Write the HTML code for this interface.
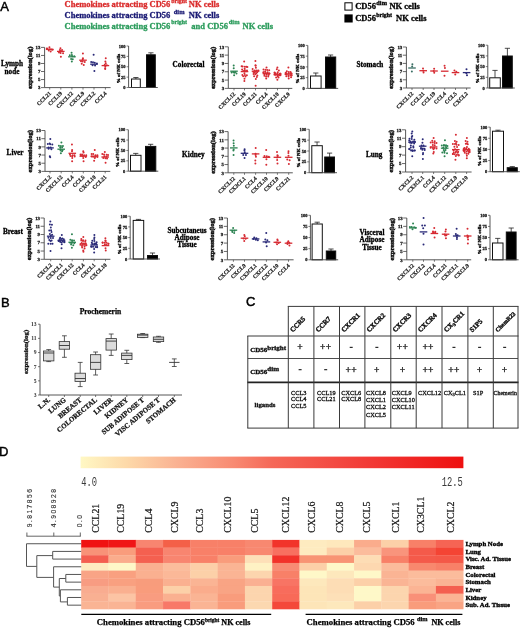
<!DOCTYPE html>
<html><head><meta charset="utf-8"><style>
html,body{margin:0;padding:0;background:#fff;}
body{width:520px;height:628px;overflow:hidden;}
svg{display:block;will-change:transform;}
</style></head><body>
<svg width="520" height="628" viewBox="0 0 520 628">
<rect width="520" height="628" fill="#fff"/>
<text x="0.30" y="10.60" font-family="'Liberation Sans', sans-serif" font-size="13" font-weight="normal" fill="#000" text-anchor="start" stroke="#000" stroke-width="0.45">A</text>
<text x="64.6" y="7.0" font-family="'Liberation Serif', serif" font-size="8.5" font-weight="bold" fill="#da2c2c" stroke="#da2c2c" stroke-width="0.3" xml:space="preserve"><tspan dy="0.00">Chemokines attracting CD56</tspan><tspan x="171.3" font-size="5.9" dy="-4.40">bright</tspan><tspan x="188.8" dy="4.40">NK cells</tspan></text>
<text x="64.6" y="18.0" font-family="'Liberation Serif', serif" font-size="8.5" font-weight="bold" fill="#1a1a74" stroke="#1a1a74" stroke-width="0.3" xml:space="preserve"><tspan dy="0.00">Chemokines attracting CD56</tspan><tspan x="173.8" font-size="6.4" dy="-4.40">dim</tspan><tspan x="188.8" dy="4.40">NK cells</tspan></text>
<text x="64.6" y="28.6" font-family="'Liberation Serif', serif" font-size="8.5" font-weight="bold" fill="#2c9c5c" stroke="#2c9c5c" stroke-width="0.3" xml:space="preserve"><tspan dy="0.00">Chemokines attracting CD56</tspan><tspan x="171.3" font-size="5.9" dy="-4.40">bright</tspan><tspan x="191.3" dy="4.40">and CD56</tspan><tspan x="228.8" font-size="6.4" dy="-4.40">dim</tspan><tspan x="242.5" dy="4.40">NK cells</tspan></text>
<rect x="344.90" y="2.80" width="7.20" height="7.30" fill="#fff" stroke="#000" stroke-width="1"/>
<rect x="344.40" y="14.40" width="8.30" height="8.10" fill="#000"/>
<text x="355.2" y="9.0" font-family="'Liberation Serif', serif" font-size="8.5" font-weight="bold" fill="#000" stroke="#000" stroke-width="0.3" xml:space="preserve"><tspan dy="0.00">CD56</tspan><tspan x="376.3" font-size="6.4" dy="-4.40">dim</tspan><tspan x="389.4" dy="4.40">NK cells</tspan></text>
<text x="355.2" y="21.0" font-family="'Liberation Serif', serif" font-size="8.5" font-weight="bold" fill="#000" stroke="#000" stroke-width="0.3" xml:space="preserve"><tspan dy="0.00">CD56</tspan><tspan x="376.3" font-size="5.9" dy="-4.40">bright</tspan><tspan x="396.0" dy="4.40">NK cells</tspan></text>
<line x1="44.60" y1="47.40" x2="44.60" y2="87.60" stroke="#444" stroke-width="0.9"/>
<line x1="44.60" y1="87.60" x2="110.60" y2="87.60" stroke="#444" stroke-width="0.9"/>
<line x1="41.00" y1="47.40" x2="44.60" y2="47.40" stroke="#444" stroke-width="0.8"/>
<text x="40.40" y="49.10" font-family="'Liberation Serif', serif" font-size="4.8" font-weight="bold" fill="#222" text-anchor="end" stroke="#222" stroke-width="0.3">13</text>
<line x1="41.00" y1="55.44" x2="44.60" y2="55.44" stroke="#444" stroke-width="0.8"/>
<text x="40.40" y="57.14" font-family="'Liberation Serif', serif" font-size="4.8" font-weight="bold" fill="#222" text-anchor="end" stroke="#222" stroke-width="0.3">11</text>
<line x1="41.00" y1="63.48" x2="44.60" y2="63.48" stroke="#444" stroke-width="0.8"/>
<text x="40.40" y="65.18" font-family="'Liberation Serif', serif" font-size="4.8" font-weight="bold" fill="#222" text-anchor="end" stroke="#222" stroke-width="0.3">9</text>
<line x1="41.00" y1="71.52" x2="44.60" y2="71.52" stroke="#444" stroke-width="0.8"/>
<text x="40.40" y="73.22" font-family="'Liberation Serif', serif" font-size="4.8" font-weight="bold" fill="#222" text-anchor="end" stroke="#222" stroke-width="0.3">7</text>
<line x1="41.00" y1="79.56" x2="44.60" y2="79.56" stroke="#444" stroke-width="0.8"/>
<text x="40.40" y="81.26" font-family="'Liberation Serif', serif" font-size="4.8" font-weight="bold" fill="#222" text-anchor="end" stroke="#222" stroke-width="0.3">5</text>
<line x1="41.00" y1="87.60" x2="44.60" y2="87.60" stroke="#444" stroke-width="0.8"/>
<text x="40.40" y="89.30" font-family="'Liberation Serif', serif" font-size="4.8" font-weight="bold" fill="#222" text-anchor="end" stroke="#222" stroke-width="0.3">3</text>
<text x="31.60" y="67.80" font-family="'Liberation Serif', serif" font-size="6.6" font-weight="bold" fill="#111" text-anchor="middle" transform="rotate(-90 31.6 67.8)" stroke="#111" stroke-width="0.45">expression(log)</text>
<line x1="49.70" y1="87.60" x2="49.70" y2="89.60" stroke="#444" stroke-width="0.7"/>
<circle cx="49.42" cy="47.20" r="1.0" fill="#d62a32"/>
<circle cx="46.80" cy="48.61" r="1.0" fill="#d62a32"/>
<circle cx="47.45" cy="48.67" r="1.0" fill="#d62a32"/>
<circle cx="49.95" cy="49.29" r="1.0" fill="#d62a32"/>
<circle cx="51.54" cy="49.57" r="1.0" fill="#d62a32"/>
<circle cx="52.60" cy="49.65" r="1.0" fill="#d62a32"/>
<circle cx="48.76" cy="50.54" r="1.0" fill="#d62a32"/>
<circle cx="50.65" cy="51.40" r="1.0" fill="#d62a32"/>
<line x1="45.90" y1="49.40" x2="53.50" y2="49.40" stroke="#d62a32" stroke-width="1.3"/>
<text x="51.40" y="93.70" font-family="'Liberation Serif', serif" font-size="5.6" font-weight="bold" fill="#222" text-anchor="end" transform="rotate(-45 51.400000000000006 93.69999999999999)" stroke="#222" stroke-width="0.2">CCL21</text>
<line x1="60.80" y1="87.60" x2="60.80" y2="89.60" stroke="#444" stroke-width="0.7"/>
<circle cx="60.43" cy="48.30" r="1.0" fill="#d62a32"/>
<circle cx="59.88" cy="50.06" r="1.0" fill="#d62a32"/>
<circle cx="62.06" cy="50.07" r="1.0" fill="#d62a32"/>
<circle cx="60.86" cy="51.10" r="1.0" fill="#d62a32"/>
<circle cx="59.00" cy="52.61" r="1.0" fill="#d62a32"/>
<circle cx="60.65" cy="53.02" r="1.0" fill="#d62a32"/>
<circle cx="63.06" cy="53.16" r="1.0" fill="#d62a32"/>
<circle cx="60.88" cy="56.80" r="1.0" fill="#d62a32"/>
<line x1="57.00" y1="51.40" x2="64.60" y2="51.40" stroke="#d62a32" stroke-width="1.3"/>
<text x="62.50" y="93.70" font-family="'Liberation Serif', serif" font-size="5.6" font-weight="bold" fill="#222" text-anchor="end" transform="rotate(-45 62.5 93.69999999999999)" stroke="#222" stroke-width="0.2">CCL19</text>
<line x1="71.90" y1="87.60" x2="71.90" y2="89.60" stroke="#444" stroke-width="0.7"/>
<circle cx="71.56" cy="52.80" r="1.0" fill="#2c8352"/>
<circle cx="71.86" cy="54.90" r="1.0" fill="#2c8352"/>
<circle cx="69.84" cy="55.29" r="1.0" fill="#2c8352"/>
<circle cx="72.21" cy="56.22" r="1.0" fill="#2c8352"/>
<circle cx="74.26" cy="56.37" r="1.0" fill="#2c8352"/>
<circle cx="71.14" cy="59.02" r="1.0" fill="#2c8352"/>
<circle cx="72.77" cy="59.33" r="1.0" fill="#2c8352"/>
<circle cx="71.83" cy="61.50" r="1.0" fill="#2c8352"/>
<line x1="68.10" y1="56.80" x2="75.70" y2="56.80" stroke="#2c8352" stroke-width="1.3"/>
<text x="73.60" y="93.70" font-family="'Liberation Serif', serif" font-size="5.6" font-weight="bold" fill="#222" text-anchor="end" transform="rotate(-45 73.60000000000001 93.69999999999999)" stroke="#222" stroke-width="0.2">CXCL12</text>
<line x1="83.00" y1="87.60" x2="83.00" y2="89.60" stroke="#444" stroke-width="0.7"/>
<circle cx="82.91" cy="53.50" r="1.0" fill="#d62a32"/>
<circle cx="82.92" cy="58.35" r="1.0" fill="#d62a32"/>
<circle cx="82.68" cy="59.27" r="1.0" fill="#d62a32"/>
<circle cx="81.01" cy="61.24" r="1.0" fill="#d62a32"/>
<circle cx="82.65" cy="61.62" r="1.0" fill="#d62a32"/>
<circle cx="84.75" cy="61.98" r="1.0" fill="#d62a32"/>
<circle cx="81.72" cy="63.81" r="1.0" fill="#d62a32"/>
<circle cx="83.78" cy="64.90" r="1.0" fill="#d62a32"/>
<line x1="79.20" y1="60.20" x2="86.80" y2="60.20" stroke="#d62a32" stroke-width="1.3"/>
<text x="84.70" y="93.70" font-family="'Liberation Serif', serif" font-size="5.6" font-weight="bold" fill="#222" text-anchor="end" transform="rotate(-45 84.7 93.69999999999999)" stroke="#222" stroke-width="0.2">CXCL9</text>
<line x1="94.00" y1="87.60" x2="94.00" y2="89.60" stroke="#444" stroke-width="0.7"/>
<circle cx="93.62" cy="54.80" r="1.0" fill="#2a2a78"/>
<circle cx="91.21" cy="62.11" r="1.0" fill="#2a2a78"/>
<circle cx="92.97" cy="62.37" r="1.0" fill="#2a2a78"/>
<circle cx="94.77" cy="62.73" r="1.0" fill="#2a2a78"/>
<circle cx="96.90" cy="63.62" r="1.0" fill="#2a2a78"/>
<circle cx="92.57" cy="65.25" r="1.0" fill="#2a2a78"/>
<circle cx="95.07" cy="65.43" r="1.0" fill="#2a2a78"/>
<circle cx="94.38" cy="71.00" r="1.0" fill="#2a2a78"/>
<line x1="90.20" y1="64.20" x2="97.80" y2="64.20" stroke="#2a2a78" stroke-width="1.3"/>
<text x="95.70" y="93.70" font-family="'Liberation Serif', serif" font-size="5.6" font-weight="bold" fill="#222" text-anchor="end" transform="rotate(-45 95.7 93.69999999999999)" stroke="#222" stroke-width="0.2">CXCL2</text>
<line x1="105.40" y1="87.60" x2="105.40" y2="89.60" stroke="#444" stroke-width="0.7"/>
<circle cx="105.77" cy="58.20" r="1.0" fill="#d62a32"/>
<circle cx="105.36" cy="61.46" r="1.0" fill="#d62a32"/>
<circle cx="105.75" cy="63.37" r="1.0" fill="#d62a32"/>
<circle cx="104.74" cy="64.81" r="1.0" fill="#d62a32"/>
<circle cx="106.81" cy="65.14" r="1.0" fill="#d62a32"/>
<circle cx="105.29" cy="66.41" r="1.0" fill="#d62a32"/>
<circle cx="105.18" cy="68.13" r="1.0" fill="#d62a32"/>
<circle cx="105.18" cy="69.00" r="1.0" fill="#d62a32"/>
<line x1="101.60" y1="65.60" x2="109.20" y2="65.60" stroke="#d62a32" stroke-width="1.3"/>
<text x="107.10" y="93.70" font-family="'Liberation Serif', serif" font-size="5.6" font-weight="bold" fill="#222" text-anchor="end" transform="rotate(-45 107.10000000000001 93.69999999999999)" stroke="#222" stroke-width="0.2">CCL4</text>
<text x="12.00" y="65.70" font-family="'Liberation Serif', serif" font-size="7.2" font-weight="bold" fill="#000" text-anchor="middle" stroke="#000" stroke-width="0.3">Lymph</text>
<text x="12.00" y="73.50" font-family="'Liberation Serif', serif" font-size="7.2" font-weight="bold" fill="#000" text-anchor="middle" stroke="#000" stroke-width="0.3">node</text>
<line x1="128.60" y1="46.00" x2="128.60" y2="87.50" stroke="#444" stroke-width="0.9"/>
<line x1="126.60" y1="46.00" x2="128.60" y2="46.00" stroke="#444" stroke-width="0.7"/>
<text x="125.60" y="47.60" font-family="'Liberation Serif', serif" font-size="4.5" font-weight="bold" fill="#222" text-anchor="end" stroke="#222" stroke-width="0.3">100</text>
<line x1="126.60" y1="56.38" x2="128.60" y2="56.38" stroke="#444" stroke-width="0.7"/>
<text x="125.60" y="57.98" font-family="'Liberation Serif', serif" font-size="4.5" font-weight="bold" fill="#222" text-anchor="end" stroke="#222" stroke-width="0.3">75</text>
<line x1="126.60" y1="66.75" x2="128.60" y2="66.75" stroke="#444" stroke-width="0.7"/>
<text x="125.60" y="68.35" font-family="'Liberation Serif', serif" font-size="4.5" font-weight="bold" fill="#222" text-anchor="end" stroke="#222" stroke-width="0.3">50</text>
<line x1="126.60" y1="77.12" x2="128.60" y2="77.12" stroke="#444" stroke-width="0.7"/>
<text x="125.60" y="78.72" font-family="'Liberation Serif', serif" font-size="4.5" font-weight="bold" fill="#222" text-anchor="end" stroke="#222" stroke-width="0.3">25</text>
<line x1="126.60" y1="87.50" x2="128.60" y2="87.50" stroke="#444" stroke-width="0.7"/>
<text x="125.60" y="89.10" font-family="'Liberation Serif', serif" font-size="4.5" font-weight="bold" fill="#222" text-anchor="end" stroke="#222" stroke-width="0.3">0</text>
<text x="119.60" y="68.55" font-family="'Liberation Serif', serif" font-size="5.0" font-weight="bold" fill="#111" text-anchor="middle" transform="rotate(-90 119.6 68.55)" stroke="#111" stroke-width="0.4">% of NK cells</text>
<line x1="135.90" y1="77.50" x2="135.90" y2="79.00" stroke="#222" stroke-width="0.8"/>
<line x1="133.30" y1="77.50" x2="138.50" y2="77.50" stroke="#222" stroke-width="0.8"/>
<rect x="131.50" y="79.00" width="8.80" height="8.50" fill="#fff" stroke="#111" stroke-width="1"/>
<line x1="150.90" y1="52.80" x2="150.90" y2="54.80" stroke="#222" stroke-width="0.8"/>
<line x1="148.30" y1="52.80" x2="153.50" y2="52.80" stroke="#222" stroke-width="0.8"/>
<rect x="146.50" y="54.80" width="8.80" height="32.70" fill="#000" stroke="#111" stroke-width="1"/>
<line x1="128.60" y1="87.50" x2="157.80" y2="87.50" stroke="#444" stroke-width="0.9"/>
<line x1="228.30" y1="46.80" x2="228.30" y2="88.40" stroke="#444" stroke-width="0.9"/>
<line x1="228.30" y1="88.40" x2="292.30" y2="88.40" stroke="#444" stroke-width="0.9"/>
<line x1="224.70" y1="46.80" x2="228.30" y2="46.80" stroke="#444" stroke-width="0.8"/>
<text x="224.10" y="48.50" font-family="'Liberation Serif', serif" font-size="4.8" font-weight="bold" fill="#222" text-anchor="end" stroke="#222" stroke-width="0.3">13</text>
<line x1="224.70" y1="55.12" x2="228.30" y2="55.12" stroke="#444" stroke-width="0.8"/>
<text x="224.10" y="56.82" font-family="'Liberation Serif', serif" font-size="4.8" font-weight="bold" fill="#222" text-anchor="end" stroke="#222" stroke-width="0.3">11</text>
<line x1="224.70" y1="63.44" x2="228.30" y2="63.44" stroke="#444" stroke-width="0.8"/>
<text x="224.10" y="65.14" font-family="'Liberation Serif', serif" font-size="4.8" font-weight="bold" fill="#222" text-anchor="end" stroke="#222" stroke-width="0.3">9</text>
<line x1="224.70" y1="71.76" x2="228.30" y2="71.76" stroke="#444" stroke-width="0.8"/>
<text x="224.10" y="73.46" font-family="'Liberation Serif', serif" font-size="4.8" font-weight="bold" fill="#222" text-anchor="end" stroke="#222" stroke-width="0.3">7</text>
<line x1="224.70" y1="80.08" x2="228.30" y2="80.08" stroke="#444" stroke-width="0.8"/>
<text x="224.10" y="81.78" font-family="'Liberation Serif', serif" font-size="4.8" font-weight="bold" fill="#222" text-anchor="end" stroke="#222" stroke-width="0.3">5</text>
<line x1="224.70" y1="88.40" x2="228.30" y2="88.40" stroke="#444" stroke-width="0.8"/>
<text x="224.10" y="90.10" font-family="'Liberation Serif', serif" font-size="4.8" font-weight="bold" fill="#222" text-anchor="end" stroke="#222" stroke-width="0.3">3</text>
<text x="215.30" y="67.90" font-family="'Liberation Serif', serif" font-size="6.6" font-weight="bold" fill="#111" text-anchor="middle" transform="rotate(-90 215.3 67.89999999999999)" stroke="#111" stroke-width="0.45">expression(log)</text>
<line x1="234.00" y1="88.40" x2="234.00" y2="90.40" stroke="#444" stroke-width="0.7"/>
<circle cx="233.70" cy="65.60" r="1.0" fill="#2c8352"/>
<circle cx="233.72" cy="68.23" r="1.0" fill="#2c8352"/>
<circle cx="233.27" cy="71.88" r="1.0" fill="#2c8352"/>
<circle cx="235.30" cy="71.98" r="1.0" fill="#2c8352"/>
<circle cx="231.62" cy="72.62" r="1.0" fill="#2c8352"/>
<circle cx="234.26" cy="72.70" r="1.0" fill="#2c8352"/>
<circle cx="236.48" cy="73.53" r="1.0" fill="#2c8352"/>
<circle cx="234.13" cy="75.30" r="1.0" fill="#2c8352"/>
<line x1="230.20" y1="71.20" x2="237.80" y2="71.20" stroke="#2c8352" stroke-width="1.3"/>
<text x="235.70" y="94.50" font-family="'Liberation Serif', serif" font-size="5.6" font-weight="bold" fill="#222" text-anchor="end" transform="rotate(-45 235.7 94.5)" stroke="#222" stroke-width="0.2">CXCL12</text>
<line x1="244.50" y1="88.40" x2="244.50" y2="90.40" stroke="#444" stroke-width="0.7"/>
<circle cx="244.16" cy="61.50" r="1.0" fill="#d62a32"/>
<circle cx="241.60" cy="66.23" r="1.0" fill="#d62a32"/>
<circle cx="242.63" cy="66.57" r="1.0" fill="#d62a32"/>
<circle cx="244.82" cy="66.65" r="1.0" fill="#d62a32"/>
<circle cx="246.32" cy="66.85" r="1.0" fill="#d62a32"/>
<circle cx="247.40" cy="67.06" r="1.0" fill="#d62a32"/>
<circle cx="244.63" cy="68.70" r="1.0" fill="#d62a32"/>
<circle cx="242.11" cy="69.55" r="1.0" fill="#d62a32"/>
<circle cx="244.81" cy="70.28" r="1.0" fill="#d62a32"/>
<circle cx="246.97" cy="70.46" r="1.0" fill="#d62a32"/>
<circle cx="243.23" cy="71.12" r="1.0" fill="#d62a32"/>
<circle cx="245.91" cy="71.26" r="1.0" fill="#d62a32"/>
<circle cx="244.42" cy="73.36" r="1.0" fill="#d62a32"/>
<circle cx="242.39" cy="74.95" r="1.0" fill="#d62a32"/>
<circle cx="244.89" cy="75.05" r="1.0" fill="#d62a32"/>
<circle cx="246.87" cy="75.24" r="1.0" fill="#d62a32"/>
<circle cx="243.18" cy="76.21" r="1.0" fill="#d62a32"/>
<circle cx="245.50" cy="76.39" r="1.0" fill="#d62a32"/>
<circle cx="244.51" cy="78.75" r="1.0" fill="#d62a32"/>
<circle cx="244.37" cy="81.00" r="1.0" fill="#d62a32"/>
<line x1="240.70" y1="71.60" x2="248.30" y2="71.60" stroke="#d62a32" stroke-width="1.3"/>
<text x="246.20" y="94.50" font-family="'Liberation Serif', serif" font-size="5.6" font-weight="bold" fill="#222" text-anchor="end" transform="rotate(-45 246.2 94.5)" stroke="#222" stroke-width="0.2">CCL19</text>
<line x1="255.50" y1="88.40" x2="255.50" y2="90.40" stroke="#444" stroke-width="0.7"/>
<circle cx="255.41" cy="60.90" r="1.0" fill="#d62a32"/>
<circle cx="255.51" cy="65.22" r="1.0" fill="#d62a32"/>
<circle cx="255.65" cy="65.72" r="1.0" fill="#d62a32"/>
<circle cx="255.89" cy="67.80" r="1.0" fill="#d62a32"/>
<circle cx="252.60" cy="68.89" r="1.0" fill="#d62a32"/>
<circle cx="254.72" cy="70.38" r="1.0" fill="#d62a32"/>
<circle cx="256.72" cy="70.38" r="1.0" fill="#d62a32"/>
<circle cx="258.40" cy="70.51" r="1.0" fill="#d62a32"/>
<circle cx="253.32" cy="71.77" r="1.0" fill="#d62a32"/>
<circle cx="255.38" cy="71.82" r="1.0" fill="#d62a32"/>
<circle cx="257.24" cy="72.17" r="1.0" fill="#d62a32"/>
<circle cx="254.15" cy="72.69" r="1.0" fill="#d62a32"/>
<circle cx="256.21" cy="73.18" r="1.0" fill="#d62a32"/>
<circle cx="253.59" cy="73.96" r="1.0" fill="#d62a32"/>
<circle cx="255.30" cy="74.31" r="1.0" fill="#d62a32"/>
<circle cx="257.33" cy="75.60" r="1.0" fill="#d62a32"/>
<circle cx="254.12" cy="76.30" r="1.0" fill="#d62a32"/>
<circle cx="256.82" cy="76.96" r="1.0" fill="#d62a32"/>
<circle cx="255.80" cy="79.01" r="1.0" fill="#d62a32"/>
<circle cx="255.64" cy="85.80" r="1.0" fill="#d62a32"/>
<line x1="251.70" y1="71.20" x2="259.30" y2="71.20" stroke="#d62a32" stroke-width="1.3"/>
<text x="257.20" y="94.50" font-family="'Liberation Serif', serif" font-size="5.6" font-weight="bold" fill="#222" text-anchor="end" transform="rotate(-45 257.2 94.5)" stroke="#222" stroke-width="0.2">CCL21</text>
<line x1="266.40" y1="88.40" x2="266.40" y2="90.40" stroke="#444" stroke-width="0.7"/>
<circle cx="266.53" cy="67.60" r="1.0" fill="#d62a32"/>
<circle cx="263.50" cy="69.40" r="1.0" fill="#d62a32"/>
<circle cx="265.54" cy="69.86" r="1.0" fill="#d62a32"/>
<circle cx="267.25" cy="69.88" r="1.0" fill="#d62a32"/>
<circle cx="269.21" cy="70.28" r="1.0" fill="#d62a32"/>
<circle cx="265.16" cy="71.38" r="1.0" fill="#d62a32"/>
<circle cx="267.63" cy="72.22" r="1.0" fill="#d62a32"/>
<circle cx="263.50" cy="72.26" r="1.0" fill="#d62a32"/>
<circle cx="263.50" cy="72.51" r="1.0" fill="#d62a32"/>
<circle cx="265.73" cy="72.92" r="1.0" fill="#d62a32"/>
<circle cx="267.45" cy="73.31" r="1.0" fill="#d62a32"/>
<circle cx="269.30" cy="73.48" r="1.0" fill="#d62a32"/>
<circle cx="269.30" cy="73.52" r="1.0" fill="#d62a32"/>
<circle cx="264.45" cy="74.28" r="1.0" fill="#d62a32"/>
<circle cx="266.61" cy="74.69" r="1.0" fill="#d62a32"/>
<circle cx="268.59" cy="75.07" r="1.0" fill="#d62a32"/>
<circle cx="264.41" cy="75.82" r="1.0" fill="#d62a32"/>
<circle cx="266.06" cy="76.42" r="1.0" fill="#d62a32"/>
<circle cx="268.22" cy="76.61" r="1.0" fill="#d62a32"/>
<circle cx="266.20" cy="78.40" r="1.0" fill="#d62a32"/>
<line x1="262.60" y1="73.60" x2="270.20" y2="73.60" stroke="#d62a32" stroke-width="1.3"/>
<text x="268.10" y="94.50" font-family="'Liberation Serif', serif" font-size="5.6" font-weight="bold" fill="#222" text-anchor="end" transform="rotate(-45 268.09999999999997 94.5)" stroke="#222" stroke-width="0.2">CCL4</text>
<line x1="277.50" y1="88.40" x2="277.50" y2="90.40" stroke="#444" stroke-width="0.7"/>
<circle cx="277.40" cy="67.60" r="1.0" fill="#d62a32"/>
<circle cx="276.81" cy="69.34" r="1.0" fill="#d62a32"/>
<circle cx="278.86" cy="70.48" r="1.0" fill="#d62a32"/>
<circle cx="277.75" cy="72.22" r="1.0" fill="#d62a32"/>
<circle cx="274.60" cy="72.39" r="1.0" fill="#d62a32"/>
<circle cx="274.60" cy="72.91" r="1.0" fill="#d62a32"/>
<circle cx="275.75" cy="73.43" r="1.0" fill="#d62a32"/>
<circle cx="277.54" cy="73.68" r="1.0" fill="#d62a32"/>
<circle cx="279.78" cy="73.71" r="1.0" fill="#d62a32"/>
<circle cx="280.40" cy="73.73" r="1.0" fill="#d62a32"/>
<circle cx="280.40" cy="73.86" r="1.0" fill="#d62a32"/>
<circle cx="274.60" cy="74.55" r="1.0" fill="#d62a32"/>
<circle cx="275.60" cy="74.77" r="1.0" fill="#d62a32"/>
<circle cx="277.62" cy="75.17" r="1.0" fill="#d62a32"/>
<circle cx="279.43" cy="75.33" r="1.0" fill="#d62a32"/>
<circle cx="280.40" cy="75.35" r="1.0" fill="#d62a32"/>
<circle cx="277.84" cy="76.18" r="1.0" fill="#d62a32"/>
<circle cx="276.15" cy="77.45" r="1.0" fill="#d62a32"/>
<circle cx="278.53" cy="77.48" r="1.0" fill="#d62a32"/>
<circle cx="277.37" cy="79.70" r="1.0" fill="#d62a32"/>
<line x1="273.70" y1="74.70" x2="281.30" y2="74.70" stroke="#d62a32" stroke-width="1.3"/>
<text x="279.20" y="94.50" font-family="'Liberation Serif', serif" font-size="5.6" font-weight="bold" fill="#222" text-anchor="end" transform="rotate(-45 279.2 94.5)" stroke="#222" stroke-width="0.2">CXCL10</text>
<line x1="288.60" y1="88.40" x2="288.60" y2="90.40" stroke="#444" stroke-width="0.7"/>
<circle cx="288.39" cy="67.60" r="1.0" fill="#d62a32"/>
<circle cx="286.84" cy="71.21" r="1.0" fill="#d62a32"/>
<circle cx="288.72" cy="72.01" r="1.0" fill="#d62a32"/>
<circle cx="290.54" cy="72.02" r="1.0" fill="#d62a32"/>
<circle cx="285.70" cy="72.86" r="1.0" fill="#d62a32"/>
<circle cx="286.30" cy="73.15" r="1.0" fill="#d62a32"/>
<circle cx="288.71" cy="73.32" r="1.0" fill="#d62a32"/>
<circle cx="290.86" cy="73.37" r="1.0" fill="#d62a32"/>
<circle cx="291.50" cy="73.40" r="1.0" fill="#d62a32"/>
<circle cx="285.70" cy="73.96" r="1.0" fill="#d62a32"/>
<circle cx="285.70" cy="74.25" r="1.0" fill="#d62a32"/>
<circle cx="286.57" cy="74.44" r="1.0" fill="#d62a32"/>
<circle cx="288.51" cy="75.24" r="1.0" fill="#d62a32"/>
<circle cx="290.48" cy="75.28" r="1.0" fill="#d62a32"/>
<circle cx="291.50" cy="75.30" r="1.0" fill="#d62a32"/>
<circle cx="291.50" cy="75.48" r="1.0" fill="#d62a32"/>
<circle cx="286.34" cy="76.32" r="1.0" fill="#d62a32"/>
<circle cx="288.57" cy="76.39" r="1.0" fill="#d62a32"/>
<circle cx="291.07" cy="77.28" r="1.0" fill="#d62a32"/>
<circle cx="288.72" cy="78.40" r="1.0" fill="#d62a32"/>
<line x1="284.80" y1="74.00" x2="292.40" y2="74.00" stroke="#d62a32" stroke-width="1.3"/>
<text x="290.30" y="94.50" font-family="'Liberation Serif', serif" font-size="5.6" font-weight="bold" fill="#222" text-anchor="end" transform="rotate(-45 290.3 94.5)" stroke="#222" stroke-width="0.2">CXCL9</text>
<text x="188.50" y="67.00" font-family="'Liberation Serif', serif" font-size="7.2" font-weight="bold" fill="#000" text-anchor="middle" stroke="#000" stroke-width="0.3">Colorectal</text>
<line x1="307.80" y1="45.40" x2="307.80" y2="88.40" stroke="#444" stroke-width="0.9"/>
<line x1="305.80" y1="45.40" x2="307.80" y2="45.40" stroke="#444" stroke-width="0.7"/>
<text x="304.80" y="47.00" font-family="'Liberation Serif', serif" font-size="4.5" font-weight="bold" fill="#222" text-anchor="end" stroke="#222" stroke-width="0.3">100</text>
<line x1="305.80" y1="56.15" x2="307.80" y2="56.15" stroke="#444" stroke-width="0.7"/>
<text x="304.80" y="57.75" font-family="'Liberation Serif', serif" font-size="4.5" font-weight="bold" fill="#222" text-anchor="end" stroke="#222" stroke-width="0.3">75</text>
<line x1="305.80" y1="66.90" x2="307.80" y2="66.90" stroke="#444" stroke-width="0.7"/>
<text x="304.80" y="68.50" font-family="'Liberation Serif', serif" font-size="4.5" font-weight="bold" fill="#222" text-anchor="end" stroke="#222" stroke-width="0.3">50</text>
<line x1="305.80" y1="77.65" x2="307.80" y2="77.65" stroke="#444" stroke-width="0.7"/>
<text x="304.80" y="79.25" font-family="'Liberation Serif', serif" font-size="4.5" font-weight="bold" fill="#222" text-anchor="end" stroke="#222" stroke-width="0.3">25</text>
<line x1="305.80" y1="88.40" x2="307.80" y2="88.40" stroke="#444" stroke-width="0.7"/>
<text x="304.80" y="90.00" font-family="'Liberation Serif', serif" font-size="4.5" font-weight="bold" fill="#222" text-anchor="end" stroke="#222" stroke-width="0.3">0</text>
<text x="298.80" y="68.70" font-family="'Liberation Serif', serif" font-size="5.0" font-weight="bold" fill="#111" text-anchor="middle" transform="rotate(-90 298.8 68.7)" stroke="#111" stroke-width="0.4">% of NK cells</text>
<line x1="315.80" y1="73.00" x2="315.80" y2="76.00" stroke="#222" stroke-width="0.8"/>
<line x1="313.20" y1="73.00" x2="318.40" y2="73.00" stroke="#222" stroke-width="0.8"/>
<rect x="310.50" y="76.00" width="10.60" height="12.40" fill="#fff" stroke="#111" stroke-width="1"/>
<line x1="330.60" y1="55.00" x2="330.60" y2="57.00" stroke="#222" stroke-width="0.8"/>
<line x1="328.00" y1="55.00" x2="333.20" y2="55.00" stroke="#222" stroke-width="0.8"/>
<rect x="325.50" y="57.00" width="10.20" height="31.40" fill="#000" stroke="#111" stroke-width="1"/>
<line x1="307.80" y1="88.40" x2="338.20" y2="88.40" stroke="#444" stroke-width="0.9"/>
<line x1="406.40" y1="47.00" x2="406.40" y2="88.00" stroke="#444" stroke-width="0.9"/>
<line x1="406.40" y1="88.00" x2="470.60" y2="88.00" stroke="#444" stroke-width="0.9"/>
<line x1="402.80" y1="47.00" x2="406.40" y2="47.00" stroke="#444" stroke-width="0.8"/>
<text x="402.20" y="48.70" font-family="'Liberation Serif', serif" font-size="4.8" font-weight="bold" fill="#222" text-anchor="end" stroke="#222" stroke-width="0.3">13</text>
<line x1="402.80" y1="55.20" x2="406.40" y2="55.20" stroke="#444" stroke-width="0.8"/>
<text x="402.20" y="56.90" font-family="'Liberation Serif', serif" font-size="4.8" font-weight="bold" fill="#222" text-anchor="end" stroke="#222" stroke-width="0.3">11</text>
<line x1="402.80" y1="63.40" x2="406.40" y2="63.40" stroke="#444" stroke-width="0.8"/>
<text x="402.20" y="65.10" font-family="'Liberation Serif', serif" font-size="4.8" font-weight="bold" fill="#222" text-anchor="end" stroke="#222" stroke-width="0.3">9</text>
<line x1="402.80" y1="71.60" x2="406.40" y2="71.60" stroke="#444" stroke-width="0.8"/>
<text x="402.20" y="73.30" font-family="'Liberation Serif', serif" font-size="4.8" font-weight="bold" fill="#222" text-anchor="end" stroke="#222" stroke-width="0.3">7</text>
<line x1="402.80" y1="79.80" x2="406.40" y2="79.80" stroke="#444" stroke-width="0.8"/>
<text x="402.20" y="81.50" font-family="'Liberation Serif', serif" font-size="4.8" font-weight="bold" fill="#222" text-anchor="end" stroke="#222" stroke-width="0.3">5</text>
<line x1="402.80" y1="88.00" x2="406.40" y2="88.00" stroke="#444" stroke-width="0.8"/>
<text x="402.20" y="89.70" font-family="'Liberation Serif', serif" font-size="4.8" font-weight="bold" fill="#222" text-anchor="end" stroke="#222" stroke-width="0.3">3</text>
<text x="393.40" y="67.80" font-family="'Liberation Serif', serif" font-size="6.6" font-weight="bold" fill="#111" text-anchor="middle" transform="rotate(-90 393.4 67.8)" stroke="#111" stroke-width="0.45">expression(log)</text>
<line x1="412.00" y1="88.00" x2="412.00" y2="90.00" stroke="#444" stroke-width="0.7"/>
<circle cx="412.37" cy="64.20" r="1.0" fill="#3a6e64"/>
<circle cx="412.16" cy="66.45" r="1.0" fill="#3a6e64"/>
<circle cx="411.85" cy="71.60" r="1.0" fill="#3a6e64"/>
<line x1="408.20" y1="68.00" x2="415.80" y2="68.00" stroke="#3a6e64" stroke-width="1.3"/>
<text x="413.70" y="94.10" font-family="'Liberation Serif', serif" font-size="5.6" font-weight="bold" fill="#222" text-anchor="end" transform="rotate(-45 413.7 94.1)" stroke="#222" stroke-width="0.2">CXCL12</text>
<line x1="423.20" y1="88.00" x2="423.20" y2="90.00" stroke="#444" stroke-width="0.7"/>
<circle cx="423.01" cy="68.60" r="1.0" fill="#d62a32"/>
<circle cx="423.33" cy="70.81" r="1.0" fill="#d62a32"/>
<circle cx="423.54" cy="72.40" r="1.0" fill="#d62a32"/>
<line x1="419.40" y1="70.70" x2="427.00" y2="70.70" stroke="#d62a32" stroke-width="1.3"/>
<text x="424.90" y="94.10" font-family="'Liberation Serif', serif" font-size="5.6" font-weight="bold" fill="#222" text-anchor="end" transform="rotate(-45 424.9 94.1)" stroke="#222" stroke-width="0.2">CCL21</text>
<line x1="434.00" y1="88.00" x2="434.00" y2="90.00" stroke="#444" stroke-width="0.7"/>
<circle cx="434.15" cy="68.80" r="1.0" fill="#d62a32"/>
<circle cx="433.76" cy="70.88" r="1.0" fill="#d62a32"/>
<circle cx="434.24" cy="72.80" r="1.0" fill="#d62a32"/>
<line x1="430.20" y1="71.00" x2="437.80" y2="71.00" stroke="#d62a32" stroke-width="1.3"/>
<text x="435.70" y="94.10" font-family="'Liberation Serif', serif" font-size="5.6" font-weight="bold" fill="#222" text-anchor="end" transform="rotate(-45 435.7 94.1)" stroke="#222" stroke-width="0.2">CCL19</text>
<line x1="444.70" y1="88.00" x2="444.70" y2="90.00" stroke="#444" stroke-width="0.7"/>
<circle cx="444.55" cy="65.80" r="1.0" fill="#d62a32"/>
<circle cx="444.96" cy="68.09" r="1.0" fill="#d62a32"/>
<circle cx="444.48" cy="75.70" r="1.0" fill="#d62a32"/>
<line x1="440.90" y1="71.20" x2="448.50" y2="71.20" stroke="#d62a32" stroke-width="1.3"/>
<text x="446.40" y="94.10" font-family="'Liberation Serif', serif" font-size="5.6" font-weight="bold" fill="#222" text-anchor="end" transform="rotate(-45 446.4 94.1)" stroke="#222" stroke-width="0.2">CCL4</text>
<line x1="455.50" y1="88.00" x2="455.50" y2="90.00" stroke="#444" stroke-width="0.7"/>
<circle cx="454.45" cy="70.60" r="1.0" fill="#d62a32"/>
<circle cx="456.30" cy="71.86" r="1.0" fill="#d62a32"/>
<circle cx="455.28" cy="74.60" r="1.0" fill="#d62a32"/>
<line x1="451.70" y1="72.60" x2="459.30" y2="72.60" stroke="#d62a32" stroke-width="1.3"/>
<text x="457.20" y="94.10" font-family="'Liberation Serif', serif" font-size="5.6" font-weight="bold" fill="#222" text-anchor="end" transform="rotate(-45 457.2 94.1)" stroke="#222" stroke-width="0.2">CCL5</text>
<line x1="466.60" y1="88.00" x2="466.60" y2="90.00" stroke="#444" stroke-width="0.7"/>
<circle cx="466.51" cy="69.30" r="1.0" fill="#2a2a78"/>
<circle cx="466.37" cy="73.35" r="1.0" fill="#2a2a78"/>
<circle cx="466.98" cy="75.30" r="1.0" fill="#2a2a78"/>
<line x1="462.80" y1="72.60" x2="470.40" y2="72.60" stroke="#2a2a78" stroke-width="1.3"/>
<text x="468.30" y="94.10" font-family="'Liberation Serif', serif" font-size="5.6" font-weight="bold" fill="#222" text-anchor="end" transform="rotate(-45 468.3 94.1)" stroke="#222" stroke-width="0.2">CXCL2</text>
<text x="370.00" y="67.00" font-family="'Liberation Serif', serif" font-size="7.2" font-weight="bold" fill="#000" text-anchor="middle" stroke="#000" stroke-width="0.3">Stomach</text>
<line x1="487.80" y1="45.20" x2="487.80" y2="88.00" stroke="#444" stroke-width="0.9"/>
<line x1="485.80" y1="45.20" x2="487.80" y2="45.20" stroke="#444" stroke-width="0.7"/>
<text x="484.80" y="46.80" font-family="'Liberation Serif', serif" font-size="4.5" font-weight="bold" fill="#222" text-anchor="end" stroke="#222" stroke-width="0.3">100</text>
<line x1="485.80" y1="55.90" x2="487.80" y2="55.90" stroke="#444" stroke-width="0.7"/>
<text x="484.80" y="57.50" font-family="'Liberation Serif', serif" font-size="4.5" font-weight="bold" fill="#222" text-anchor="end" stroke="#222" stroke-width="0.3">75</text>
<line x1="485.80" y1="66.60" x2="487.80" y2="66.60" stroke="#444" stroke-width="0.7"/>
<text x="484.80" y="68.20" font-family="'Liberation Serif', serif" font-size="4.5" font-weight="bold" fill="#222" text-anchor="end" stroke="#222" stroke-width="0.3">50</text>
<line x1="485.80" y1="77.30" x2="487.80" y2="77.30" stroke="#444" stroke-width="0.7"/>
<text x="484.80" y="78.90" font-family="'Liberation Serif', serif" font-size="4.5" font-weight="bold" fill="#222" text-anchor="end" stroke="#222" stroke-width="0.3">25</text>
<line x1="485.80" y1="88.00" x2="487.80" y2="88.00" stroke="#444" stroke-width="0.7"/>
<text x="484.80" y="89.60" font-family="'Liberation Serif', serif" font-size="4.5" font-weight="bold" fill="#222" text-anchor="end" stroke="#222" stroke-width="0.3">0</text>
<text x="478.80" y="68.40" font-family="'Liberation Serif', serif" font-size="5.0" font-weight="bold" fill="#111" text-anchor="middle" transform="rotate(-90 478.8 68.39999999999999)" stroke="#111" stroke-width="0.4">% of NK cells</text>
<line x1="495.00" y1="70.40" x2="495.00" y2="77.80" stroke="#222" stroke-width="0.8"/>
<line x1="492.40" y1="70.40" x2="497.60" y2="70.40" stroke="#222" stroke-width="0.8"/>
<rect x="489.70" y="77.80" width="10.60" height="10.20" fill="#fff" stroke="#111" stroke-width="1"/>
<line x1="507.40" y1="48.30" x2="507.40" y2="56.00" stroke="#222" stroke-width="0.8"/>
<line x1="504.80" y1="48.30" x2="510.00" y2="48.30" stroke="#222" stroke-width="0.8"/>
<rect x="502.50" y="56.00" width="9.80" height="32.00" fill="#000" stroke="#111" stroke-width="1"/>
<line x1="487.80" y1="88.00" x2="514.80" y2="88.00" stroke="#444" stroke-width="0.9"/>
<line x1="45.00" y1="130.50" x2="45.00" y2="171.40" stroke="#444" stroke-width="0.9"/>
<line x1="45.00" y1="171.40" x2="110.30" y2="171.40" stroke="#444" stroke-width="0.9"/>
<line x1="41.40" y1="130.50" x2="45.00" y2="130.50" stroke="#444" stroke-width="0.8"/>
<text x="40.80" y="132.20" font-family="'Liberation Serif', serif" font-size="4.8" font-weight="bold" fill="#222" text-anchor="end" stroke="#222" stroke-width="0.3">13</text>
<line x1="41.40" y1="138.68" x2="45.00" y2="138.68" stroke="#444" stroke-width="0.8"/>
<text x="40.80" y="140.38" font-family="'Liberation Serif', serif" font-size="4.8" font-weight="bold" fill="#222" text-anchor="end" stroke="#222" stroke-width="0.3">11</text>
<line x1="41.40" y1="146.86" x2="45.00" y2="146.86" stroke="#444" stroke-width="0.8"/>
<text x="40.80" y="148.56" font-family="'Liberation Serif', serif" font-size="4.8" font-weight="bold" fill="#222" text-anchor="end" stroke="#222" stroke-width="0.3">9</text>
<line x1="41.40" y1="155.04" x2="45.00" y2="155.04" stroke="#444" stroke-width="0.8"/>
<text x="40.80" y="156.74" font-family="'Liberation Serif', serif" font-size="4.8" font-weight="bold" fill="#222" text-anchor="end" stroke="#222" stroke-width="0.3">7</text>
<line x1="41.40" y1="163.22" x2="45.00" y2="163.22" stroke="#444" stroke-width="0.8"/>
<text x="40.80" y="164.92" font-family="'Liberation Serif', serif" font-size="4.8" font-weight="bold" fill="#222" text-anchor="end" stroke="#222" stroke-width="0.3">5</text>
<line x1="41.40" y1="171.40" x2="45.00" y2="171.40" stroke="#444" stroke-width="0.8"/>
<text x="40.80" y="173.10" font-family="'Liberation Serif', serif" font-size="4.8" font-weight="bold" fill="#222" text-anchor="end" stroke="#222" stroke-width="0.3">3</text>
<text x="32.00" y="151.25" font-family="'Liberation Serif', serif" font-size="6.6" font-weight="bold" fill="#111" text-anchor="middle" transform="rotate(-90 32.0 151.25)" stroke="#111" stroke-width="0.45">expression(log)</text>
<line x1="50.00" y1="171.40" x2="50.00" y2="173.40" stroke="#444" stroke-width="0.7"/>
<circle cx="50.32" cy="139.10" r="1.0" fill="#2a2a78"/>
<circle cx="49.62" cy="143.40" r="1.0" fill="#2a2a78"/>
<circle cx="47.83" cy="143.92" r="1.0" fill="#2a2a78"/>
<circle cx="50.25" cy="144.29" r="1.0" fill="#2a2a78"/>
<circle cx="52.31" cy="144.48" r="1.0" fill="#2a2a78"/>
<circle cx="48.58" cy="147.42" r="1.0" fill="#2a2a78"/>
<circle cx="50.68" cy="147.45" r="1.0" fill="#2a2a78"/>
<circle cx="48.60" cy="148.80" r="1.0" fill="#2a2a78"/>
<circle cx="51.39" cy="149.30" r="1.0" fill="#2a2a78"/>
<circle cx="49.81" cy="156.17" r="1.0" fill="#2a2a78"/>
<circle cx="50.20" cy="157.30" r="1.0" fill="#2a2a78"/>
<line x1="46.20" y1="147.90" x2="53.80" y2="147.90" stroke="#2a2a78" stroke-width="1.3"/>
<text x="51.70" y="177.50" font-family="'Liberation Serif', serif" font-size="5.6" font-weight="bold" fill="#222" text-anchor="end" transform="rotate(-45 51.7 177.5)" stroke="#222" stroke-width="0.2">CXCL2</text>
<line x1="61.20" y1="171.40" x2="61.20" y2="173.40" stroke="#444" stroke-width="0.7"/>
<circle cx="61.40" cy="142.50" r="1.0" fill="#2c8352"/>
<circle cx="58.90" cy="145.76" r="1.0" fill="#2c8352"/>
<circle cx="60.85" cy="145.93" r="1.0" fill="#2c8352"/>
<circle cx="62.93" cy="146.06" r="1.0" fill="#2c8352"/>
<circle cx="60.19" cy="147.14" r="1.0" fill="#2c8352"/>
<circle cx="62.11" cy="147.27" r="1.0" fill="#2c8352"/>
<circle cx="60.53" cy="149.29" r="1.0" fill="#2c8352"/>
<circle cx="62.56" cy="150.27" r="1.0" fill="#2c8352"/>
<circle cx="60.54" cy="150.55" r="1.0" fill="#2c8352"/>
<circle cx="62.06" cy="151.20" r="1.0" fill="#2c8352"/>
<circle cx="60.87" cy="153.30" r="1.0" fill="#2c8352"/>
<line x1="57.40" y1="149.20" x2="65.00" y2="149.20" stroke="#2c8352" stroke-width="1.3"/>
<text x="62.90" y="177.50" font-family="'Liberation Serif', serif" font-size="5.6" font-weight="bold" fill="#222" text-anchor="end" transform="rotate(-45 62.900000000000006 177.5)" stroke="#222" stroke-width="0.2">CXCL12</text>
<line x1="72.30" y1="171.40" x2="72.30" y2="173.40" stroke="#444" stroke-width="0.7"/>
<circle cx="71.93" cy="144.50" r="1.0" fill="#d62a32"/>
<circle cx="72.13" cy="149.91" r="1.0" fill="#d62a32"/>
<circle cx="72.00" cy="151.29" r="1.0" fill="#d62a32"/>
<circle cx="69.95" cy="154.48" r="1.0" fill="#d62a32"/>
<circle cx="72.68" cy="155.20" r="1.0" fill="#d62a32"/>
<circle cx="74.47" cy="155.28" r="1.0" fill="#d62a32"/>
<circle cx="70.54" cy="156.06" r="1.0" fill="#d62a32"/>
<circle cx="72.20" cy="156.14" r="1.0" fill="#d62a32"/>
<circle cx="74.69" cy="156.60" r="1.0" fill="#d62a32"/>
<circle cx="72.26" cy="157.93" r="1.0" fill="#d62a32"/>
<circle cx="72.11" cy="161.30" r="1.0" fill="#d62a32"/>
<line x1="68.50" y1="153.30" x2="76.10" y2="153.30" stroke="#d62a32" stroke-width="1.3"/>
<text x="74.00" y="177.50" font-family="'Liberation Serif', serif" font-size="5.6" font-weight="bold" fill="#222" text-anchor="end" transform="rotate(-45 74.0 177.5)" stroke="#222" stroke-width="0.2">CCL4</text>
<line x1="83.30" y1="171.40" x2="83.30" y2="173.40" stroke="#444" stroke-width="0.7"/>
<circle cx="83.23" cy="151.20" r="1.0" fill="#d62a32"/>
<circle cx="83.59" cy="152.58" r="1.0" fill="#d62a32"/>
<circle cx="80.55" cy="154.44" r="1.0" fill="#d62a32"/>
<circle cx="82.14" cy="154.56" r="1.0" fill="#d62a32"/>
<circle cx="84.11" cy="155.23" r="1.0" fill="#d62a32"/>
<circle cx="86.20" cy="155.28" r="1.0" fill="#d62a32"/>
<circle cx="80.96" cy="155.60" r="1.0" fill="#d62a32"/>
<circle cx="82.90" cy="156.04" r="1.0" fill="#d62a32"/>
<circle cx="85.72" cy="157.08" r="1.0" fill="#d62a32"/>
<circle cx="83.24" cy="158.12" r="1.0" fill="#d62a32"/>
<circle cx="83.56" cy="161.30" r="1.0" fill="#d62a32"/>
<line x1="79.50" y1="156.20" x2="87.10" y2="156.20" stroke="#d62a32" stroke-width="1.3"/>
<text x="85.00" y="177.50" font-family="'Liberation Serif', serif" font-size="5.6" font-weight="bold" fill="#222" text-anchor="end" transform="rotate(-45 85.0 177.5)" stroke="#222" stroke-width="0.2">CCL5</text>
<line x1="94.50" y1="171.40" x2="94.50" y2="173.40" stroke="#444" stroke-width="0.7"/>
<circle cx="94.76" cy="149.90" r="1.0" fill="#d62a32"/>
<circle cx="91.60" cy="153.91" r="1.0" fill="#d62a32"/>
<circle cx="93.22" cy="154.12" r="1.0" fill="#d62a32"/>
<circle cx="95.47" cy="155.13" r="1.0" fill="#d62a32"/>
<circle cx="97.40" cy="155.16" r="1.0" fill="#d62a32"/>
<circle cx="91.60" cy="156.51" r="1.0" fill="#d62a32"/>
<circle cx="93.15" cy="156.65" r="1.0" fill="#d62a32"/>
<circle cx="95.35" cy="156.79" r="1.0" fill="#d62a32"/>
<circle cx="97.40" cy="157.09" r="1.0" fill="#d62a32"/>
<circle cx="94.82" cy="158.09" r="1.0" fill="#d62a32"/>
<circle cx="94.13" cy="160.70" r="1.0" fill="#d62a32"/>
<line x1="90.70" y1="156.20" x2="98.30" y2="156.20" stroke="#d62a32" stroke-width="1.3"/>
<text x="96.20" y="177.50" font-family="'Liberation Serif', serif" font-size="5.6" font-weight="bold" fill="#222" text-anchor="end" transform="rotate(-45 96.2 177.5)" stroke="#222" stroke-width="0.2">CXCL10</text>
<line x1="105.20" y1="171.40" x2="105.20" y2="173.40" stroke="#444" stroke-width="0.7"/>
<circle cx="104.84" cy="151.90" r="1.0" fill="#d62a32"/>
<circle cx="102.30" cy="153.98" r="1.0" fill="#d62a32"/>
<circle cx="104.05" cy="154.56" r="1.0" fill="#d62a32"/>
<circle cx="106.61" cy="154.69" r="1.0" fill="#d62a32"/>
<circle cx="108.06" cy="155.04" r="1.0" fill="#d62a32"/>
<circle cx="104.44" cy="156.16" r="1.0" fill="#d62a32"/>
<circle cx="106.65" cy="156.76" r="1.0" fill="#d62a32"/>
<circle cx="103.29" cy="157.99" r="1.0" fill="#d62a32"/>
<circle cx="105.45" cy="158.15" r="1.0" fill="#d62a32"/>
<circle cx="107.05" cy="158.43" r="1.0" fill="#d62a32"/>
<circle cx="105.59" cy="162.70" r="1.0" fill="#d62a32"/>
<line x1="101.40" y1="157.00" x2="109.00" y2="157.00" stroke="#d62a32" stroke-width="1.3"/>
<text x="106.90" y="177.50" font-family="'Liberation Serif', serif" font-size="5.6" font-weight="bold" fill="#222" text-anchor="end" transform="rotate(-45 106.9 177.5)" stroke="#222" stroke-width="0.2">CCL21</text>
<text x="15.00" y="155.40" font-family="'Liberation Serif', serif" font-size="7.2" font-weight="bold" fill="#000" text-anchor="middle" stroke="#000" stroke-width="0.3">Liver</text>
<line x1="128.30" y1="129.70" x2="128.30" y2="171.20" stroke="#444" stroke-width="0.9"/>
<line x1="126.30" y1="129.70" x2="128.30" y2="129.70" stroke="#444" stroke-width="0.7"/>
<text x="125.30" y="131.30" font-family="'Liberation Serif', serif" font-size="4.5" font-weight="bold" fill="#222" text-anchor="end" stroke="#222" stroke-width="0.3">100</text>
<line x1="126.30" y1="140.07" x2="128.30" y2="140.07" stroke="#444" stroke-width="0.7"/>
<text x="125.30" y="141.67" font-family="'Liberation Serif', serif" font-size="4.5" font-weight="bold" fill="#222" text-anchor="end" stroke="#222" stroke-width="0.3">75</text>
<line x1="126.30" y1="150.45" x2="128.30" y2="150.45" stroke="#444" stroke-width="0.7"/>
<text x="125.30" y="152.05" font-family="'Liberation Serif', serif" font-size="4.5" font-weight="bold" fill="#222" text-anchor="end" stroke="#222" stroke-width="0.3">50</text>
<line x1="126.30" y1="160.82" x2="128.30" y2="160.82" stroke="#444" stroke-width="0.7"/>
<text x="125.30" y="162.42" font-family="'Liberation Serif', serif" font-size="4.5" font-weight="bold" fill="#222" text-anchor="end" stroke="#222" stroke-width="0.3">25</text>
<line x1="126.30" y1="171.20" x2="128.30" y2="171.20" stroke="#444" stroke-width="0.7"/>
<text x="125.30" y="172.80" font-family="'Liberation Serif', serif" font-size="4.5" font-weight="bold" fill="#222" text-anchor="end" stroke="#222" stroke-width="0.3">0</text>
<text x="119.30" y="152.25" font-family="'Liberation Serif', serif" font-size="5.0" font-weight="bold" fill="#111" text-anchor="middle" transform="rotate(-90 119.30000000000001 152.25)" stroke="#111" stroke-width="0.4">% of NK cells</text>
<line x1="135.75" y1="153.40" x2="135.75" y2="155.30" stroke="#222" stroke-width="0.8"/>
<line x1="133.15" y1="153.40" x2="138.35" y2="153.40" stroke="#222" stroke-width="0.8"/>
<rect x="130.50" y="155.30" width="10.50" height="15.90" fill="#fff" stroke="#111" stroke-width="1"/>
<line x1="150.65" y1="144.30" x2="150.65" y2="146.40" stroke="#222" stroke-width="0.8"/>
<line x1="148.05" y1="144.30" x2="153.25" y2="144.30" stroke="#222" stroke-width="0.8"/>
<rect x="145.50" y="146.40" width="10.30" height="24.80" fill="#000" stroke="#111" stroke-width="1"/>
<line x1="128.30" y1="171.20" x2="158.30" y2="171.20" stroke="#444" stroke-width="0.9"/>
<line x1="228.10" y1="131.60" x2="228.10" y2="172.80" stroke="#444" stroke-width="0.9"/>
<line x1="228.10" y1="172.80" x2="292.80" y2="172.80" stroke="#444" stroke-width="0.9"/>
<line x1="224.50" y1="131.60" x2="228.10" y2="131.60" stroke="#444" stroke-width="0.8"/>
<text x="223.90" y="133.30" font-family="'Liberation Serif', serif" font-size="4.8" font-weight="bold" fill="#222" text-anchor="end" stroke="#222" stroke-width="0.3">13</text>
<line x1="224.50" y1="139.84" x2="228.10" y2="139.84" stroke="#444" stroke-width="0.8"/>
<text x="223.90" y="141.54" font-family="'Liberation Serif', serif" font-size="4.8" font-weight="bold" fill="#222" text-anchor="end" stroke="#222" stroke-width="0.3">11</text>
<line x1="224.50" y1="148.08" x2="228.10" y2="148.08" stroke="#444" stroke-width="0.8"/>
<text x="223.90" y="149.78" font-family="'Liberation Serif', serif" font-size="4.8" font-weight="bold" fill="#222" text-anchor="end" stroke="#222" stroke-width="0.3">9</text>
<line x1="224.50" y1="156.32" x2="228.10" y2="156.32" stroke="#444" stroke-width="0.8"/>
<text x="223.90" y="158.02" font-family="'Liberation Serif', serif" font-size="4.8" font-weight="bold" fill="#222" text-anchor="end" stroke="#222" stroke-width="0.3">7</text>
<line x1="224.50" y1="164.56" x2="228.10" y2="164.56" stroke="#444" stroke-width="0.8"/>
<text x="223.90" y="166.26" font-family="'Liberation Serif', serif" font-size="4.8" font-weight="bold" fill="#222" text-anchor="end" stroke="#222" stroke-width="0.3">5</text>
<line x1="224.50" y1="172.80" x2="228.10" y2="172.80" stroke="#444" stroke-width="0.8"/>
<text x="223.90" y="174.50" font-family="'Liberation Serif', serif" font-size="4.8" font-weight="bold" fill="#222" text-anchor="end" stroke="#222" stroke-width="0.3">3</text>
<text x="215.10" y="152.50" font-family="'Liberation Serif', serif" font-size="6.6" font-weight="bold" fill="#111" text-anchor="middle" transform="rotate(-90 215.1 152.5)" stroke="#111" stroke-width="0.45">expression(log)</text>
<line x1="233.80" y1="172.80" x2="233.80" y2="174.80" stroke="#444" stroke-width="0.7"/>
<circle cx="233.57" cy="140.50" r="1.0" fill="#2c8352"/>
<circle cx="233.61" cy="143.34" r="1.0" fill="#2c8352"/>
<circle cx="233.80" cy="145.68" r="1.0" fill="#2c8352"/>
<circle cx="233.66" cy="149.38" r="1.0" fill="#2c8352"/>
<circle cx="233.43" cy="150.59" r="1.0" fill="#2c8352"/>
<circle cx="233.55" cy="154.90" r="1.0" fill="#2c8352"/>
<line x1="230.00" y1="147.90" x2="237.60" y2="147.90" stroke="#2c8352" stroke-width="1.3"/>
<text x="235.50" y="178.90" font-family="'Liberation Serif', serif" font-size="5.6" font-weight="bold" fill="#222" text-anchor="end" transform="rotate(-45 235.5 178.9)" stroke="#222" stroke-width="0.2">CXCL12</text>
<line x1="244.50" y1="172.80" x2="244.50" y2="174.80" stroke="#444" stroke-width="0.7"/>
<circle cx="244.60" cy="149.20" r="1.0" fill="#2a2a78"/>
<circle cx="244.42" cy="150.47" r="1.0" fill="#2a2a78"/>
<circle cx="244.74" cy="152.18" r="1.0" fill="#2a2a78"/>
<circle cx="243.26" cy="154.91" r="1.0" fill="#2a2a78"/>
<circle cx="245.94" cy="155.05" r="1.0" fill="#2a2a78"/>
<circle cx="244.56" cy="158.00" r="1.0" fill="#2a2a78"/>
<line x1="240.70" y1="153.30" x2="248.30" y2="153.30" stroke="#2a2a78" stroke-width="1.3"/>
<text x="246.20" y="178.90" font-family="'Liberation Serif', serif" font-size="5.6" font-weight="bold" fill="#222" text-anchor="end" transform="rotate(-45 246.2 178.9)" stroke="#222" stroke-width="0.2">CX3CL1</text>
<line x1="255.60" y1="172.80" x2="255.60" y2="174.80" stroke="#444" stroke-width="0.7"/>
<circle cx="255.69" cy="147.90" r="1.0" fill="#d62a32"/>
<circle cx="255.55" cy="153.84" r="1.0" fill="#d62a32"/>
<circle cx="255.61" cy="154.91" r="1.0" fill="#d62a32"/>
<circle cx="255.92" cy="156.68" r="1.0" fill="#d62a32"/>
<circle cx="255.31" cy="160.41" r="1.0" fill="#d62a32"/>
<circle cx="255.38" cy="163.40" r="1.0" fill="#d62a32"/>
<line x1="251.80" y1="153.90" x2="259.40" y2="153.90" stroke="#d62a32" stroke-width="1.3"/>
<text x="257.30" y="178.90" font-family="'Liberation Serif', serif" font-size="5.6" font-weight="bold" fill="#222" text-anchor="end" transform="rotate(-45 257.3 178.9)" stroke="#222" stroke-width="0.2">CCL4</text>
<line x1="266.50" y1="172.80" x2="266.50" y2="174.80" stroke="#444" stroke-width="0.7"/>
<circle cx="266.18" cy="149.90" r="1.0" fill="#d62a32"/>
<circle cx="264.51" cy="155.96" r="1.0" fill="#d62a32"/>
<circle cx="266.80" cy="156.26" r="1.0" fill="#d62a32"/>
<circle cx="268.83" cy="156.77" r="1.0" fill="#d62a32"/>
<circle cx="266.42" cy="159.15" r="1.0" fill="#d62a32"/>
<circle cx="266.31" cy="164.70" r="1.0" fill="#d62a32"/>
<line x1="262.70" y1="157.30" x2="270.30" y2="157.30" stroke="#d62a32" stroke-width="1.3"/>
<text x="268.20" y="178.90" font-family="'Liberation Serif', serif" font-size="5.6" font-weight="bold" fill="#222" text-anchor="end" transform="rotate(-45 268.2 178.9)" stroke="#222" stroke-width="0.2">CXCL10</text>
<line x1="277.40" y1="172.80" x2="277.40" y2="174.80" stroke="#444" stroke-width="0.7"/>
<circle cx="277.01" cy="151.90" r="1.0" fill="#d62a32"/>
<circle cx="277.44" cy="155.34" r="1.0" fill="#d62a32"/>
<circle cx="277.75" cy="155.92" r="1.0" fill="#d62a32"/>
<circle cx="277.11" cy="157.60" r="1.0" fill="#d62a32"/>
<circle cx="277.16" cy="160.09" r="1.0" fill="#d62a32"/>
<circle cx="277.49" cy="163.40" r="1.0" fill="#d62a32"/>
<line x1="273.60" y1="157.30" x2="281.20" y2="157.30" stroke="#d62a32" stroke-width="1.3"/>
<text x="279.10" y="178.90" font-family="'Liberation Serif', serif" font-size="5.6" font-weight="bold" fill="#222" text-anchor="end" transform="rotate(-45 279.09999999999997 178.9)" stroke="#222" stroke-width="0.2">CXCL9</text>
<line x1="288.70" y1="172.80" x2="288.70" y2="174.80" stroke="#444" stroke-width="0.7"/>
<circle cx="288.48" cy="151.20" r="1.0" fill="#d62a32"/>
<circle cx="288.38" cy="153.08" r="1.0" fill="#d62a32"/>
<circle cx="288.49" cy="155.71" r="1.0" fill="#d62a32"/>
<circle cx="287.28" cy="159.44" r="1.0" fill="#d62a32"/>
<circle cx="289.62" cy="160.25" r="1.0" fill="#d62a32"/>
<circle cx="288.90" cy="164.00" r="1.0" fill="#d62a32"/>
<line x1="284.90" y1="157.30" x2="292.50" y2="157.30" stroke="#d62a32" stroke-width="1.3"/>
<text x="290.40" y="178.90" font-family="'Liberation Serif', serif" font-size="5.6" font-weight="bold" fill="#222" text-anchor="end" transform="rotate(-45 290.4 178.9)" stroke="#222" stroke-width="0.2">CCL21</text>
<text x="193.30" y="157.10" font-family="'Liberation Serif', serif" font-size="7.2" font-weight="bold" fill="#000" text-anchor="middle" stroke="#000" stroke-width="0.3">Kidney</text>
<line x1="309.20" y1="129.30" x2="309.20" y2="172.70" stroke="#444" stroke-width="0.9"/>
<line x1="307.20" y1="129.30" x2="309.20" y2="129.30" stroke="#444" stroke-width="0.7"/>
<text x="306.20" y="130.90" font-family="'Liberation Serif', serif" font-size="4.5" font-weight="bold" fill="#222" text-anchor="end" stroke="#222" stroke-width="0.3">100</text>
<line x1="307.20" y1="140.15" x2="309.20" y2="140.15" stroke="#444" stroke-width="0.7"/>
<text x="306.20" y="141.75" font-family="'Liberation Serif', serif" font-size="4.5" font-weight="bold" fill="#222" text-anchor="end" stroke="#222" stroke-width="0.3">75</text>
<line x1="307.20" y1="151.00" x2="309.20" y2="151.00" stroke="#444" stroke-width="0.7"/>
<text x="306.20" y="152.60" font-family="'Liberation Serif', serif" font-size="4.5" font-weight="bold" fill="#222" text-anchor="end" stroke="#222" stroke-width="0.3">50</text>
<line x1="307.20" y1="161.85" x2="309.20" y2="161.85" stroke="#444" stroke-width="0.7"/>
<text x="306.20" y="163.45" font-family="'Liberation Serif', serif" font-size="4.5" font-weight="bold" fill="#222" text-anchor="end" stroke="#222" stroke-width="0.3">25</text>
<line x1="307.20" y1="172.70" x2="309.20" y2="172.70" stroke="#444" stroke-width="0.7"/>
<text x="306.20" y="174.30" font-family="'Liberation Serif', serif" font-size="4.5" font-weight="bold" fill="#222" text-anchor="end" stroke="#222" stroke-width="0.3">0</text>
<text x="300.20" y="152.80" font-family="'Liberation Serif', serif" font-size="5.0" font-weight="bold" fill="#111" text-anchor="middle" transform="rotate(-90 300.2 152.8)" stroke="#111" stroke-width="0.4">% of NK cells</text>
<line x1="317.05" y1="142.00" x2="317.05" y2="145.70" stroke="#222" stroke-width="0.8"/>
<line x1="314.45" y1="142.00" x2="319.65" y2="142.00" stroke="#222" stroke-width="0.8"/>
<rect x="311.80" y="145.70" width="10.50" height="27.00" fill="#fff" stroke="#111" stroke-width="1"/>
<line x1="329.60" y1="153.10" x2="329.60" y2="157.00" stroke="#222" stroke-width="0.8"/>
<line x1="327.00" y1="153.10" x2="332.20" y2="153.10" stroke="#222" stroke-width="0.8"/>
<rect x="324.70" y="157.00" width="9.80" height="15.70" fill="#000" stroke="#111" stroke-width="1"/>
<line x1="309.20" y1="172.70" x2="337.00" y2="172.70" stroke="#444" stroke-width="0.9"/>
<line x1="405.60" y1="129.80" x2="405.60" y2="172.00" stroke="#444" stroke-width="0.9"/>
<line x1="405.60" y1="172.00" x2="471.60" y2="172.00" stroke="#444" stroke-width="0.9"/>
<line x1="402.00" y1="129.80" x2="405.60" y2="129.80" stroke="#444" stroke-width="0.8"/>
<text x="401.40" y="131.50" font-family="'Liberation Serif', serif" font-size="4.8" font-weight="bold" fill="#222" text-anchor="end" stroke="#222" stroke-width="0.3">13</text>
<line x1="402.00" y1="138.24" x2="405.60" y2="138.24" stroke="#444" stroke-width="0.8"/>
<text x="401.40" y="139.94" font-family="'Liberation Serif', serif" font-size="4.8" font-weight="bold" fill="#222" text-anchor="end" stroke="#222" stroke-width="0.3">11</text>
<line x1="402.00" y1="146.68" x2="405.60" y2="146.68" stroke="#444" stroke-width="0.8"/>
<text x="401.40" y="148.38" font-family="'Liberation Serif', serif" font-size="4.8" font-weight="bold" fill="#222" text-anchor="end" stroke="#222" stroke-width="0.3">9</text>
<line x1="402.00" y1="155.12" x2="405.60" y2="155.12" stroke="#444" stroke-width="0.8"/>
<text x="401.40" y="156.82" font-family="'Liberation Serif', serif" font-size="4.8" font-weight="bold" fill="#222" text-anchor="end" stroke="#222" stroke-width="0.3">7</text>
<line x1="402.00" y1="163.56" x2="405.60" y2="163.56" stroke="#444" stroke-width="0.8"/>
<text x="401.40" y="165.26" font-family="'Liberation Serif', serif" font-size="4.8" font-weight="bold" fill="#222" text-anchor="end" stroke="#222" stroke-width="0.3">5</text>
<line x1="402.00" y1="172.00" x2="405.60" y2="172.00" stroke="#444" stroke-width="0.8"/>
<text x="401.40" y="173.70" font-family="'Liberation Serif', serif" font-size="4.8" font-weight="bold" fill="#222" text-anchor="end" stroke="#222" stroke-width="0.3">3</text>
<text x="392.60" y="151.20" font-family="'Liberation Serif', serif" font-size="6.6" font-weight="bold" fill="#111" text-anchor="middle" transform="rotate(-90 392.6 151.20000000000002)" stroke="#111" stroke-width="0.45">expression(log)</text>
<line x1="412.00" y1="172.00" x2="412.00" y2="174.00" stroke="#444" stroke-width="0.7"/>
<circle cx="412.29" cy="131.40" r="1.0" fill="#2a2a78"/>
<circle cx="411.67" cy="133.49" r="1.0" fill="#2a2a78"/>
<circle cx="412.26" cy="136.00" r="1.0" fill="#2a2a78"/>
<circle cx="411.74" cy="136.90" r="1.0" fill="#2a2a78"/>
<circle cx="409.50" cy="138.75" r="1.0" fill="#2a2a78"/>
<circle cx="411.76" cy="139.01" r="1.0" fill="#2a2a78"/>
<circle cx="414.31" cy="139.81" r="1.0" fill="#2a2a78"/>
<circle cx="409.23" cy="140.50" r="1.0" fill="#2a2a78"/>
<circle cx="410.55" cy="141.41" r="1.0" fill="#2a2a78"/>
<circle cx="413.04" cy="141.55" r="1.0" fill="#2a2a78"/>
<circle cx="414.90" cy="141.70" r="1.0" fill="#2a2a78"/>
<circle cx="410.14" cy="142.82" r="1.0" fill="#2a2a78"/>
<circle cx="411.75" cy="142.89" r="1.0" fill="#2a2a78"/>
<circle cx="414.10" cy="143.39" r="1.0" fill="#2a2a78"/>
<circle cx="410.83" cy="145.57" r="1.0" fill="#2a2a78"/>
<circle cx="413.32" cy="146.31" r="1.0" fill="#2a2a78"/>
<circle cx="410.76" cy="147.46" r="1.0" fill="#2a2a78"/>
<circle cx="413.41" cy="147.51" r="1.0" fill="#2a2a78"/>
<circle cx="409.10" cy="148.99" r="1.0" fill="#2a2a78"/>
<circle cx="409.67" cy="149.27" r="1.0" fill="#2a2a78"/>
<circle cx="412.16" cy="150.27" r="1.0" fill="#2a2a78"/>
<circle cx="414.10" cy="150.38" r="1.0" fill="#2a2a78"/>
<circle cx="414.90" cy="150.40" r="1.0" fill="#2a2a78"/>
<circle cx="411.06" cy="150.50" r="1.0" fill="#2a2a78"/>
<circle cx="412.71" cy="151.09" r="1.0" fill="#2a2a78"/>
<circle cx="412.23" cy="156.30" r="1.0" fill="#2a2a78"/>
<line x1="408.20" y1="142.20" x2="415.80" y2="142.20" stroke="#2a2a78" stroke-width="1.3"/>
<text x="413.70" y="178.10" font-family="'Liberation Serif', serif" font-size="5.6" font-weight="bold" fill="#222" text-anchor="end" transform="rotate(-45 413.7 178.1)" stroke="#222" stroke-width="0.2">CXCL2</text>
<line x1="422.70" y1="172.00" x2="422.70" y2="174.00" stroke="#444" stroke-width="0.7"/>
<circle cx="422.72" cy="139.20" r="1.0" fill="#2a2a78"/>
<circle cx="422.43" cy="142.83" r="1.0" fill="#2a2a78"/>
<circle cx="421.51" cy="145.56" r="1.0" fill="#2a2a78"/>
<circle cx="423.50" cy="145.62" r="1.0" fill="#2a2a78"/>
<circle cx="420.98" cy="147.94" r="1.0" fill="#2a2a78"/>
<circle cx="422.88" cy="148.43" r="1.0" fill="#2a2a78"/>
<circle cx="424.48" cy="148.73" r="1.0" fill="#2a2a78"/>
<circle cx="420.97" cy="148.80" r="1.0" fill="#2a2a78"/>
<circle cx="422.38" cy="149.65" r="1.0" fill="#2a2a78"/>
<circle cx="424.71" cy="150.03" r="1.0" fill="#2a2a78"/>
<circle cx="423.09" cy="152.95" r="1.0" fill="#2a2a78"/>
<circle cx="422.94" cy="154.17" r="1.0" fill="#2a2a78"/>
<circle cx="422.89" cy="159.00" r="1.0" fill="#2a2a78"/>
<line x1="418.90" y1="146.20" x2="426.50" y2="146.20" stroke="#2a2a78" stroke-width="1.3"/>
<text x="424.40" y="178.10" font-family="'Liberation Serif', serif" font-size="5.6" font-weight="bold" fill="#222" text-anchor="end" transform="rotate(-45 424.4 178.1)" stroke="#222" stroke-width="0.2">CX3CL1</text>
<line x1="433.60" y1="172.00" x2="433.60" y2="174.00" stroke="#444" stroke-width="0.7"/>
<circle cx="433.62" cy="137.90" r="1.0" fill="#d62a32"/>
<circle cx="432.23" cy="140.77" r="1.0" fill="#d62a32"/>
<circle cx="434.71" cy="141.26" r="1.0" fill="#d62a32"/>
<circle cx="430.70" cy="142.42" r="1.0" fill="#d62a32"/>
<circle cx="432.72" cy="142.57" r="1.0" fill="#d62a32"/>
<circle cx="434.66" cy="142.88" r="1.0" fill="#d62a32"/>
<circle cx="436.50" cy="142.91" r="1.0" fill="#d62a32"/>
<circle cx="432.81" cy="145.10" r="1.0" fill="#d62a32"/>
<circle cx="434.67" cy="145.19" r="1.0" fill="#d62a32"/>
<circle cx="430.70" cy="147.78" r="1.0" fill="#d62a32"/>
<circle cx="432.91" cy="147.91" r="1.0" fill="#d62a32"/>
<circle cx="434.42" cy="148.04" r="1.0" fill="#d62a32"/>
<circle cx="436.50" cy="148.62" r="1.0" fill="#d62a32"/>
<circle cx="433.51" cy="149.25" r="1.0" fill="#d62a32"/>
<circle cx="433.81" cy="152.07" r="1.0" fill="#d62a32"/>
<circle cx="433.30" cy="153.60" r="1.0" fill="#d62a32"/>
<line x1="429.80" y1="146.90" x2="437.40" y2="146.90" stroke="#d62a32" stroke-width="1.3"/>
<text x="435.30" y="178.10" font-family="'Liberation Serif', serif" font-size="5.6" font-weight="bold" fill="#222" text-anchor="end" transform="rotate(-45 435.3 178.1)" stroke="#222" stroke-width="0.2">CCL4</text>
<line x1="444.70" y1="172.00" x2="444.70" y2="174.00" stroke="#444" stroke-width="0.7"/>
<circle cx="444.96" cy="140.20" r="1.0" fill="#2c8352"/>
<circle cx="443.97" cy="145.11" r="1.0" fill="#2c8352"/>
<circle cx="445.98" cy="145.15" r="1.0" fill="#2c8352"/>
<circle cx="441.80" cy="145.42" r="1.0" fill="#2c8352"/>
<circle cx="443.92" cy="145.84" r="1.0" fill="#2c8352"/>
<circle cx="445.86" cy="145.88" r="1.0" fill="#2c8352"/>
<circle cx="447.46" cy="145.91" r="1.0" fill="#2c8352"/>
<circle cx="443.26" cy="147.80" r="1.0" fill="#2c8352"/>
<circle cx="446.11" cy="147.85" r="1.0" fill="#2c8352"/>
<circle cx="443.77" cy="150.08" r="1.0" fill="#2c8352"/>
<circle cx="445.55" cy="150.11" r="1.0" fill="#2c8352"/>
<circle cx="444.38" cy="151.19" r="1.0" fill="#2c8352"/>
<circle cx="442.31" cy="152.41" r="1.0" fill="#2c8352"/>
<circle cx="444.49" cy="152.72" r="1.0" fill="#2c8352"/>
<circle cx="447.02" cy="153.20" r="1.0" fill="#2c8352"/>
<circle cx="444.58" cy="156.30" r="1.0" fill="#2c8352"/>
<line x1="440.90" y1="148.20" x2="448.50" y2="148.20" stroke="#2c8352" stroke-width="1.3"/>
<text x="446.40" y="178.10" font-family="'Liberation Serif', serif" font-size="5.6" font-weight="bold" fill="#222" text-anchor="end" transform="rotate(-45 446.4 178.1)" stroke="#222" stroke-width="0.2">CXCL12</text>
<line x1="455.80" y1="172.00" x2="455.80" y2="174.00" stroke="#444" stroke-width="0.7"/>
<circle cx="455.88" cy="134.80" r="1.0" fill="#d62a32"/>
<circle cx="454.89" cy="141.12" r="1.0" fill="#d62a32"/>
<circle cx="456.62" cy="141.77" r="1.0" fill="#d62a32"/>
<circle cx="455.93" cy="143.13" r="1.0" fill="#d62a32"/>
<circle cx="452.90" cy="144.07" r="1.0" fill="#d62a32"/>
<circle cx="454.96" cy="144.09" r="1.0" fill="#d62a32"/>
<circle cx="456.53" cy="144.67" r="1.0" fill="#d62a32"/>
<circle cx="458.70" cy="144.89" r="1.0" fill="#d62a32"/>
<circle cx="454.38" cy="146.73" r="1.0" fill="#d62a32"/>
<circle cx="457.07" cy="146.90" r="1.0" fill="#d62a32"/>
<circle cx="455.08" cy="149.14" r="1.0" fill="#d62a32"/>
<circle cx="456.97" cy="150.07" r="1.0" fill="#d62a32"/>
<circle cx="453.60" cy="150.59" r="1.0" fill="#d62a32"/>
<circle cx="456.06" cy="151.59" r="1.0" fill="#d62a32"/>
<circle cx="458.13" cy="151.83" r="1.0" fill="#d62a32"/>
<circle cx="453.75" cy="152.55" r="1.0" fill="#d62a32"/>
<circle cx="455.61" cy="152.59" r="1.0" fill="#d62a32"/>
<circle cx="457.74" cy="152.78" r="1.0" fill="#d62a32"/>
<circle cx="452.90" cy="153.92" r="1.0" fill="#d62a32"/>
<circle cx="452.90" cy="153.98" r="1.0" fill="#d62a32"/>
<circle cx="454.69" cy="154.15" r="1.0" fill="#d62a32"/>
<circle cx="456.96" cy="154.72" r="1.0" fill="#d62a32"/>
<circle cx="458.70" cy="154.90" r="1.0" fill="#d62a32"/>
<circle cx="458.70" cy="155.54" r="1.0" fill="#d62a32"/>
<circle cx="455.85" cy="155.99" r="1.0" fill="#d62a32"/>
<circle cx="455.43" cy="159.70" r="1.0" fill="#d62a32"/>
<line x1="452.00" y1="149.60" x2="459.60" y2="149.60" stroke="#d62a32" stroke-width="1.3"/>
<text x="457.50" y="178.10" font-family="'Liberation Serif', serif" font-size="5.6" font-weight="bold" fill="#222" text-anchor="end" transform="rotate(-45 457.5 178.1)" stroke="#222" stroke-width="0.2">CXCL9</text>
<line x1="466.60" y1="172.00" x2="466.60" y2="174.00" stroke="#444" stroke-width="0.7"/>
<circle cx="466.89" cy="137.90" r="1.0" fill="#d62a32"/>
<circle cx="465.61" cy="141.03" r="1.0" fill="#d62a32"/>
<circle cx="467.47" cy="141.74" r="1.0" fill="#d62a32"/>
<circle cx="466.88" cy="143.40" r="1.0" fill="#d62a32"/>
<circle cx="465.80" cy="143.78" r="1.0" fill="#d62a32"/>
<circle cx="467.80" cy="144.24" r="1.0" fill="#d62a32"/>
<circle cx="466.93" cy="146.90" r="1.0" fill="#d62a32"/>
<circle cx="464.38" cy="148.11" r="1.0" fill="#d62a32"/>
<circle cx="466.27" cy="148.16" r="1.0" fill="#d62a32"/>
<circle cx="468.74" cy="148.63" r="1.0" fill="#d62a32"/>
<circle cx="463.70" cy="148.98" r="1.0" fill="#d62a32"/>
<circle cx="465.31" cy="149.62" r="1.0" fill="#d62a32"/>
<circle cx="467.85" cy="150.20" r="1.0" fill="#d62a32"/>
<circle cx="469.50" cy="150.43" r="1.0" fill="#d62a32"/>
<circle cx="463.70" cy="150.45" r="1.0" fill="#d62a32"/>
<circle cx="463.70" cy="150.81" r="1.0" fill="#d62a32"/>
<circle cx="464.64" cy="150.94" r="1.0" fill="#d62a32"/>
<circle cx="466.57" cy="151.39" r="1.0" fill="#d62a32"/>
<circle cx="468.47" cy="151.79" r="1.0" fill="#d62a32"/>
<circle cx="469.50" cy="151.94" r="1.0" fill="#d62a32"/>
<circle cx="469.50" cy="152.04" r="1.0" fill="#d62a32"/>
<circle cx="464.73" cy="152.72" r="1.0" fill="#d62a32"/>
<circle cx="466.57" cy="153.69" r="1.0" fill="#d62a32"/>
<circle cx="468.37" cy="153.85" r="1.0" fill="#d62a32"/>
<circle cx="466.85" cy="155.83" r="1.0" fill="#d62a32"/>
<circle cx="466.82" cy="158.30" r="1.0" fill="#d62a32"/>
<line x1="462.80" y1="149.60" x2="470.40" y2="149.60" stroke="#d62a32" stroke-width="1.3"/>
<text x="468.30" y="178.10" font-family="'Liberation Serif', serif" font-size="5.6" font-weight="bold" fill="#222" text-anchor="end" transform="rotate(-45 468.3 178.1)" stroke="#222" stroke-width="0.2">CXCL10</text>
<text x="374.20" y="157.10" font-family="'Liberation Serif', serif" font-size="7.2" font-weight="bold" fill="#000" text-anchor="middle" stroke="#000" stroke-width="0.3">Lung</text>
<line x1="490.20" y1="127.10" x2="490.20" y2="171.70" stroke="#444" stroke-width="0.9"/>
<line x1="488.20" y1="127.10" x2="490.20" y2="127.10" stroke="#444" stroke-width="0.7"/>
<text x="487.20" y="128.70" font-family="'Liberation Serif', serif" font-size="4.5" font-weight="bold" fill="#222" text-anchor="end" stroke="#222" stroke-width="0.3">100</text>
<line x1="488.20" y1="138.25" x2="490.20" y2="138.25" stroke="#444" stroke-width="0.7"/>
<text x="487.20" y="139.85" font-family="'Liberation Serif', serif" font-size="4.5" font-weight="bold" fill="#222" text-anchor="end" stroke="#222" stroke-width="0.3">75</text>
<line x1="488.20" y1="149.40" x2="490.20" y2="149.40" stroke="#444" stroke-width="0.7"/>
<text x="487.20" y="151.00" font-family="'Liberation Serif', serif" font-size="4.5" font-weight="bold" fill="#222" text-anchor="end" stroke="#222" stroke-width="0.3">50</text>
<line x1="488.20" y1="160.55" x2="490.20" y2="160.55" stroke="#444" stroke-width="0.7"/>
<text x="487.20" y="162.15" font-family="'Liberation Serif', serif" font-size="4.5" font-weight="bold" fill="#222" text-anchor="end" stroke="#222" stroke-width="0.3">25</text>
<line x1="488.20" y1="171.70" x2="490.20" y2="171.70" stroke="#444" stroke-width="0.7"/>
<text x="487.20" y="173.30" font-family="'Liberation Serif', serif" font-size="4.5" font-weight="bold" fill="#222" text-anchor="end" stroke="#222" stroke-width="0.3">0</text>
<text x="481.20" y="151.20" font-family="'Liberation Serif', serif" font-size="5.0" font-weight="bold" fill="#111" text-anchor="middle" transform="rotate(-90 481.2 151.2)" stroke="#111" stroke-width="0.4">% of NK cells</text>
<line x1="498.00" y1="130.20" x2="498.00" y2="131.20" stroke="#222" stroke-width="0.8"/>
<line x1="495.40" y1="130.20" x2="500.60" y2="130.20" stroke="#222" stroke-width="0.8"/>
<rect x="492.50" y="131.20" width="11.00" height="40.50" fill="#fff" stroke="#111" stroke-width="1"/>
<line x1="512.25" y1="166.60" x2="512.25" y2="167.70" stroke="#222" stroke-width="0.8"/>
<line x1="509.65" y1="166.60" x2="514.85" y2="166.60" stroke="#222" stroke-width="0.8"/>
<rect x="507.20" y="167.70" width="10.10" height="4.00" fill="#000" stroke="#111" stroke-width="1"/>
<line x1="490.20" y1="171.70" x2="519.80" y2="171.70" stroke="#444" stroke-width="0.9"/>
<line x1="44.20" y1="218.00" x2="44.20" y2="259.30" stroke="#444" stroke-width="0.9"/>
<line x1="44.20" y1="259.30" x2="110.40" y2="259.30" stroke="#444" stroke-width="0.9"/>
<line x1="40.60" y1="218.00" x2="44.20" y2="218.00" stroke="#444" stroke-width="0.8"/>
<text x="40.00" y="219.70" font-family="'Liberation Serif', serif" font-size="4.8" font-weight="bold" fill="#222" text-anchor="end" stroke="#222" stroke-width="0.3">13</text>
<line x1="40.60" y1="226.26" x2="44.20" y2="226.26" stroke="#444" stroke-width="0.8"/>
<text x="40.00" y="227.96" font-family="'Liberation Serif', serif" font-size="4.8" font-weight="bold" fill="#222" text-anchor="end" stroke="#222" stroke-width="0.3">11</text>
<line x1="40.60" y1="234.52" x2="44.20" y2="234.52" stroke="#444" stroke-width="0.8"/>
<text x="40.00" y="236.22" font-family="'Liberation Serif', serif" font-size="4.8" font-weight="bold" fill="#222" text-anchor="end" stroke="#222" stroke-width="0.3">9</text>
<line x1="40.60" y1="242.78" x2="44.20" y2="242.78" stroke="#444" stroke-width="0.8"/>
<text x="40.00" y="244.48" font-family="'Liberation Serif', serif" font-size="4.8" font-weight="bold" fill="#222" text-anchor="end" stroke="#222" stroke-width="0.3">7</text>
<line x1="40.60" y1="251.04" x2="44.20" y2="251.04" stroke="#444" stroke-width="0.8"/>
<text x="40.00" y="252.74" font-family="'Liberation Serif', serif" font-size="4.8" font-weight="bold" fill="#222" text-anchor="end" stroke="#222" stroke-width="0.3">5</text>
<line x1="40.60" y1="259.30" x2="44.20" y2="259.30" stroke="#444" stroke-width="0.8"/>
<text x="40.00" y="261.00" font-family="'Liberation Serif', serif" font-size="4.8" font-weight="bold" fill="#222" text-anchor="end" stroke="#222" stroke-width="0.3">3</text>
<text x="31.20" y="238.95" font-family="'Liberation Serif', serif" font-size="6.6" font-weight="bold" fill="#111" text-anchor="middle" transform="rotate(-90 31.200000000000003 238.95000000000002)" stroke="#111" stroke-width="0.45">expression(log)</text>
<line x1="50.70" y1="259.30" x2="50.70" y2="261.30" stroke="#444" stroke-width="0.7"/>
<circle cx="50.34" cy="221.40" r="1.0" fill="#2a2a78"/>
<circle cx="49.88" cy="224.51" r="1.0" fill="#2a2a78"/>
<circle cx="51.92" cy="224.73" r="1.0" fill="#2a2a78"/>
<circle cx="50.82" cy="227.56" r="1.0" fill="#2a2a78"/>
<circle cx="51.09" cy="230.13" r="1.0" fill="#2a2a78"/>
<circle cx="49.29" cy="230.56" r="1.0" fill="#2a2a78"/>
<circle cx="51.47" cy="231.93" r="1.0" fill="#2a2a78"/>
<circle cx="49.85" cy="234.12" r="1.0" fill="#2a2a78"/>
<circle cx="52.10" cy="234.84" r="1.0" fill="#2a2a78"/>
<circle cx="50.84" cy="235.72" r="1.0" fill="#2a2a78"/>
<circle cx="48.44" cy="237.85" r="1.0" fill="#2a2a78"/>
<circle cx="50.77" cy="237.92" r="1.0" fill="#2a2a78"/>
<circle cx="53.01" cy="238.05" r="1.0" fill="#2a2a78"/>
<circle cx="49.33" cy="239.90" r="1.0" fill="#2a2a78"/>
<circle cx="51.61" cy="240.38" r="1.0" fill="#2a2a78"/>
<circle cx="50.51" cy="240.94" r="1.0" fill="#2a2a78"/>
<circle cx="48.30" cy="243.67" r="1.0" fill="#2a2a78"/>
<circle cx="50.69" cy="243.70" r="1.0" fill="#2a2a78"/>
<circle cx="52.53" cy="243.80" r="1.0" fill="#2a2a78"/>
<circle cx="50.49" cy="251.00" r="1.0" fill="#2a2a78"/>
<line x1="46.90" y1="236.20" x2="54.50" y2="236.20" stroke="#2a2a78" stroke-width="1.3"/>
<text x="52.40" y="265.40" font-family="'Liberation Serif', serif" font-size="5.6" font-weight="bold" fill="#222" text-anchor="end" transform="rotate(-45 52.400000000000006 265.40000000000003)" stroke="#222" stroke-width="0.2">CXCL2</text>
<line x1="61.50" y1="259.30" x2="61.50" y2="261.30" stroke="#444" stroke-width="0.7"/>
<circle cx="61.84" cy="234.90" r="1.0" fill="#2a2a78"/>
<circle cx="60.13" cy="237.75" r="1.0" fill="#2a2a78"/>
<circle cx="62.38" cy="238.53" r="1.0" fill="#2a2a78"/>
<circle cx="59.72" cy="238.90" r="1.0" fill="#2a2a78"/>
<circle cx="61.15" cy="238.95" r="1.0" fill="#2a2a78"/>
<circle cx="63.78" cy="239.28" r="1.0" fill="#2a2a78"/>
<circle cx="58.60" cy="240.63" r="1.0" fill="#2a2a78"/>
<circle cx="58.73" cy="241.07" r="1.0" fill="#2a2a78"/>
<circle cx="60.06" cy="241.65" r="1.0" fill="#2a2a78"/>
<circle cx="62.80" cy="241.75" r="1.0" fill="#2a2a78"/>
<circle cx="64.40" cy="241.80" r="1.0" fill="#2a2a78"/>
<circle cx="64.40" cy="242.20" r="1.0" fill="#2a2a78"/>
<circle cx="61.10" cy="242.35" r="1.0" fill="#2a2a78"/>
<circle cx="61.77" cy="244.25" r="1.0" fill="#2a2a78"/>
<circle cx="61.52" cy="248.30" r="1.0" fill="#2a2a78"/>
<line x1="57.70" y1="240.30" x2="65.30" y2="240.30" stroke="#2a2a78" stroke-width="1.3"/>
<text x="63.20" y="265.40" font-family="'Liberation Serif', serif" font-size="5.6" font-weight="bold" fill="#222" text-anchor="end" transform="rotate(-45 63.2 265.40000000000003)" stroke="#222" stroke-width="0.2">CX3CL1</text>
<line x1="72.20" y1="259.30" x2="72.20" y2="261.30" stroke="#444" stroke-width="0.7"/>
<circle cx="71.95" cy="234.20" r="1.0" fill="#2c8352"/>
<circle cx="70.37" cy="239.69" r="1.0" fill="#2c8352"/>
<circle cx="72.09" cy="240.35" r="1.0" fill="#2c8352"/>
<circle cx="74.03" cy="240.45" r="1.0" fill="#2c8352"/>
<circle cx="72.10" cy="240.98" r="1.0" fill="#2c8352"/>
<circle cx="70.18" cy="242.68" r="1.0" fill="#2c8352"/>
<circle cx="71.80" cy="242.96" r="1.0" fill="#2c8352"/>
<circle cx="74.32" cy="243.16" r="1.0" fill="#2c8352"/>
<circle cx="71.11" cy="244.59" r="1.0" fill="#2c8352"/>
<circle cx="73.26" cy="245.20" r="1.0" fill="#2c8352"/>
<circle cx="71.90" cy="247.70" r="1.0" fill="#2c8352"/>
<line x1="68.40" y1="242.30" x2="76.00" y2="242.30" stroke="#2c8352" stroke-width="1.3"/>
<text x="73.90" y="265.40" font-family="'Liberation Serif', serif" font-size="5.6" font-weight="bold" fill="#222" text-anchor="end" transform="rotate(-45 73.9 265.40000000000003)" stroke="#222" stroke-width="0.2">CXCL12</text>
<line x1="83.40" y1="259.30" x2="83.40" y2="261.30" stroke="#444" stroke-width="0.7"/>
<circle cx="83.29" cy="236.90" r="1.0" fill="#d62a32"/>
<circle cx="81.32" cy="239.00" r="1.0" fill="#d62a32"/>
<circle cx="83.06" cy="240.21" r="1.0" fill="#d62a32"/>
<circle cx="85.45" cy="240.52" r="1.0" fill="#d62a32"/>
<circle cx="81.30" cy="240.59" r="1.0" fill="#d62a32"/>
<circle cx="83.02" cy="240.98" r="1.0" fill="#d62a32"/>
<circle cx="85.21" cy="241.83" r="1.0" fill="#d62a32"/>
<circle cx="81.68" cy="242.90" r="1.0" fill="#d62a32"/>
<circle cx="83.62" cy="243.41" r="1.0" fill="#d62a32"/>
<circle cx="85.85" cy="243.54" r="1.0" fill="#d62a32"/>
<circle cx="80.50" cy="244.01" r="1.0" fill="#d62a32"/>
<circle cx="82.60" cy="244.05" r="1.0" fill="#d62a32"/>
<circle cx="84.76" cy="244.08" r="1.0" fill="#d62a32"/>
<circle cx="86.30" cy="245.25" r="1.0" fill="#d62a32"/>
<circle cx="81.98" cy="245.95" r="1.0" fill="#d62a32"/>
<circle cx="84.56" cy="246.41" r="1.0" fill="#d62a32"/>
<circle cx="82.16" cy="247.62" r="1.0" fill="#d62a32"/>
<circle cx="84.59" cy="248.54" r="1.0" fill="#d62a32"/>
<circle cx="83.22" cy="250.53" r="1.0" fill="#d62a32"/>
<circle cx="83.43" cy="251.70" r="1.0" fill="#d62a32"/>
<line x1="79.60" y1="245.00" x2="87.20" y2="245.00" stroke="#d62a32" stroke-width="1.3"/>
<text x="85.10" y="265.40" font-family="'Liberation Serif', serif" font-size="5.6" font-weight="bold" fill="#222" text-anchor="end" transform="rotate(-45 85.10000000000001 265.40000000000003)" stroke="#222" stroke-width="0.2">CCL4</text>
<line x1="94.20" y1="259.30" x2="94.20" y2="261.30" stroke="#444" stroke-width="0.7"/>
<circle cx="94.39" cy="234.90" r="1.0" fill="#2a2a78"/>
<circle cx="94.41" cy="237.43" r="1.0" fill="#2a2a78"/>
<circle cx="94.18" cy="238.88" r="1.0" fill="#2a2a78"/>
<circle cx="92.33" cy="240.65" r="1.0" fill="#2a2a78"/>
<circle cx="94.37" cy="241.10" r="1.0" fill="#2a2a78"/>
<circle cx="96.63" cy="242.19" r="1.0" fill="#2a2a78"/>
<circle cx="91.80" cy="242.72" r="1.0" fill="#2a2a78"/>
<circle cx="94.50" cy="243.48" r="1.0" fill="#2a2a78"/>
<circle cx="95.90" cy="243.50" r="1.0" fill="#2a2a78"/>
<circle cx="92.31" cy="244.08" r="1.0" fill="#2a2a78"/>
<circle cx="94.27" cy="244.22" r="1.0" fill="#2a2a78"/>
<circle cx="96.30" cy="244.37" r="1.0" fill="#2a2a78"/>
<circle cx="91.30" cy="246.44" r="1.0" fill="#2a2a78"/>
<circle cx="91.30" cy="246.79" r="1.0" fill="#2a2a78"/>
<circle cx="93.08" cy="246.82" r="1.0" fill="#2a2a78"/>
<circle cx="95.48" cy="246.92" r="1.0" fill="#2a2a78"/>
<circle cx="97.10" cy="246.98" r="1.0" fill="#2a2a78"/>
<circle cx="97.10" cy="247.16" r="1.0" fill="#2a2a78"/>
<circle cx="94.10" cy="249.07" r="1.0" fill="#2a2a78"/>
<circle cx="94.16" cy="252.40" r="1.0" fill="#2a2a78"/>
<line x1="90.40" y1="245.00" x2="98.00" y2="245.00" stroke="#2a2a78" stroke-width="1.3"/>
<text x="95.90" y="265.40" font-family="'Liberation Serif', serif" font-size="5.6" font-weight="bold" fill="#222" text-anchor="end" transform="rotate(-45 95.9 265.40000000000003)" stroke="#222" stroke-width="0.2">CXCL1</text>
<line x1="105.50" y1="259.30" x2="105.50" y2="261.30" stroke="#444" stroke-width="0.7"/>
<circle cx="105.40" cy="238.20" r="1.0" fill="#d62a32"/>
<circle cx="105.42" cy="240.52" r="1.0" fill="#d62a32"/>
<circle cx="105.55" cy="241.01" r="1.0" fill="#d62a32"/>
<circle cx="102.60" cy="242.56" r="1.0" fill="#d62a32"/>
<circle cx="102.65" cy="242.65" r="1.0" fill="#d62a32"/>
<circle cx="104.82" cy="242.70" r="1.0" fill="#d62a32"/>
<circle cx="106.54" cy="242.82" r="1.0" fill="#d62a32"/>
<circle cx="108.40" cy="243.77" r="1.0" fill="#d62a32"/>
<circle cx="108.40" cy="243.84" r="1.0" fill="#d62a32"/>
<circle cx="104.85" cy="244.47" r="1.0" fill="#d62a32"/>
<circle cx="106.42" cy="245.11" r="1.0" fill="#d62a32"/>
<circle cx="105.52" cy="248.19" r="1.0" fill="#d62a32"/>
<circle cx="105.75" cy="250.40" r="1.0" fill="#d62a32"/>
<line x1="101.70" y1="245.60" x2="109.30" y2="245.60" stroke="#d62a32" stroke-width="1.3"/>
<text x="107.20" y="265.40" font-family="'Liberation Serif', serif" font-size="5.6" font-weight="bold" fill="#222" text-anchor="end" transform="rotate(-45 107.2 265.40000000000003)" stroke="#222" stroke-width="0.2">CXCL10</text>
<text x="12.90" y="234.40" font-family="'Liberation Serif', serif" font-size="7.2" font-weight="bold" fill="#000" text-anchor="middle" stroke="#000" stroke-width="0.3">Breast</text>
<line x1="130.20" y1="216.20" x2="130.20" y2="259.00" stroke="#444" stroke-width="0.9"/>
<line x1="128.20" y1="216.20" x2="130.20" y2="216.20" stroke="#444" stroke-width="0.7"/>
<text x="127.20" y="217.80" font-family="'Liberation Serif', serif" font-size="4.5" font-weight="bold" fill="#222" text-anchor="end" stroke="#222" stroke-width="0.3">100</text>
<line x1="128.20" y1="226.90" x2="130.20" y2="226.90" stroke="#444" stroke-width="0.7"/>
<text x="127.20" y="228.50" font-family="'Liberation Serif', serif" font-size="4.5" font-weight="bold" fill="#222" text-anchor="end" stroke="#222" stroke-width="0.3">75</text>
<line x1="128.20" y1="237.60" x2="130.20" y2="237.60" stroke="#444" stroke-width="0.7"/>
<text x="127.20" y="239.20" font-family="'Liberation Serif', serif" font-size="4.5" font-weight="bold" fill="#222" text-anchor="end" stroke="#222" stroke-width="0.3">50</text>
<line x1="128.20" y1="248.30" x2="130.20" y2="248.30" stroke="#444" stroke-width="0.7"/>
<text x="127.20" y="249.90" font-family="'Liberation Serif', serif" font-size="4.5" font-weight="bold" fill="#222" text-anchor="end" stroke="#222" stroke-width="0.3">25</text>
<line x1="128.20" y1="259.00" x2="130.20" y2="259.00" stroke="#444" stroke-width="0.7"/>
<text x="127.20" y="260.60" font-family="'Liberation Serif', serif" font-size="4.5" font-weight="bold" fill="#222" text-anchor="end" stroke="#222" stroke-width="0.3">0</text>
<text x="121.20" y="239.40" font-family="'Liberation Serif', serif" font-size="5.0" font-weight="bold" fill="#111" text-anchor="middle" transform="rotate(-90 121.19999999999999 239.4)" stroke="#111" stroke-width="0.4">% of NK cells</text>
<line x1="138.45" y1="219.40" x2="138.45" y2="220.40" stroke="#222" stroke-width="0.8"/>
<line x1="135.85" y1="219.40" x2="141.05" y2="219.40" stroke="#222" stroke-width="0.8"/>
<rect x="133.20" y="220.40" width="10.50" height="38.60" fill="#fff" stroke="#111" stroke-width="1"/>
<line x1="152.50" y1="253.00" x2="152.50" y2="255.50" stroke="#222" stroke-width="0.8"/>
<line x1="149.90" y1="253.00" x2="155.10" y2="253.00" stroke="#222" stroke-width="0.8"/>
<rect x="147.50" y="255.50" width="10.00" height="3.50" fill="#000" stroke="#111" stroke-width="1"/>
<line x1="130.20" y1="259.00" x2="160.00" y2="259.00" stroke="#444" stroke-width="0.9"/>
<line x1="227.40" y1="218.00" x2="227.40" y2="259.80" stroke="#444" stroke-width="0.9"/>
<line x1="227.40" y1="259.80" x2="293.60" y2="259.80" stroke="#444" stroke-width="0.9"/>
<line x1="223.80" y1="218.00" x2="227.40" y2="218.00" stroke="#444" stroke-width="0.8"/>
<text x="223.20" y="219.70" font-family="'Liberation Serif', serif" font-size="4.8" font-weight="bold" fill="#222" text-anchor="end" stroke="#222" stroke-width="0.3">13</text>
<line x1="223.80" y1="226.36" x2="227.40" y2="226.36" stroke="#444" stroke-width="0.8"/>
<text x="223.20" y="228.06" font-family="'Liberation Serif', serif" font-size="4.8" font-weight="bold" fill="#222" text-anchor="end" stroke="#222" stroke-width="0.3">11</text>
<line x1="223.80" y1="234.72" x2="227.40" y2="234.72" stroke="#444" stroke-width="0.8"/>
<text x="223.20" y="236.42" font-family="'Liberation Serif', serif" font-size="4.8" font-weight="bold" fill="#222" text-anchor="end" stroke="#222" stroke-width="0.3">9</text>
<line x1="223.80" y1="243.08" x2="227.40" y2="243.08" stroke="#444" stroke-width="0.8"/>
<text x="223.20" y="244.78" font-family="'Liberation Serif', serif" font-size="4.8" font-weight="bold" fill="#222" text-anchor="end" stroke="#222" stroke-width="0.3">7</text>
<line x1="223.80" y1="251.44" x2="227.40" y2="251.44" stroke="#444" stroke-width="0.8"/>
<text x="223.20" y="253.14" font-family="'Liberation Serif', serif" font-size="4.8" font-weight="bold" fill="#222" text-anchor="end" stroke="#222" stroke-width="0.3">5</text>
<line x1="223.80" y1="259.80" x2="227.40" y2="259.80" stroke="#444" stroke-width="0.8"/>
<text x="223.20" y="261.50" font-family="'Liberation Serif', serif" font-size="4.8" font-weight="bold" fill="#222" text-anchor="end" stroke="#222" stroke-width="0.3">3</text>
<text x="214.40" y="239.20" font-family="'Liberation Serif', serif" font-size="6.6" font-weight="bold" fill="#111" text-anchor="middle" transform="rotate(-90 214.4 239.20000000000002)" stroke="#111" stroke-width="0.45">expression(log)</text>
<line x1="233.40" y1="259.80" x2="233.40" y2="261.80" stroke="#444" stroke-width="0.7"/>
<circle cx="233.13" cy="227.90" r="1.0" fill="#2c8352"/>
<circle cx="232.18" cy="230.70" r="1.0" fill="#2c8352"/>
<circle cx="234.46" cy="230.71" r="1.0" fill="#2c8352"/>
<circle cx="232.35" cy="232.06" r="1.0" fill="#2c8352"/>
<circle cx="234.20" cy="232.90" r="1.0" fill="#2c8352"/>
<line x1="229.60" y1="230.20" x2="237.20" y2="230.20" stroke="#2c8352" stroke-width="1.3"/>
<text x="235.10" y="265.90" font-family="'Liberation Serif', serif" font-size="5.6" font-weight="bold" fill="#222" text-anchor="end" transform="rotate(-45 235.1 265.90000000000003)" stroke="#222" stroke-width="0.2">CXCL12</text>
<line x1="244.50" y1="259.80" x2="244.50" y2="261.80" stroke="#444" stroke-width="0.7"/>
<circle cx="244.34" cy="234.90" r="1.0" fill="#d62a32"/>
<circle cx="244.77" cy="236.23" r="1.0" fill="#d62a32"/>
<circle cx="243.52" cy="238.43" r="1.0" fill="#d62a32"/>
<circle cx="245.68" cy="238.80" r="1.0" fill="#d62a32"/>
<circle cx="244.26" cy="240.90" r="1.0" fill="#d62a32"/>
<line x1="240.70" y1="238.20" x2="248.30" y2="238.20" stroke="#d62a32" stroke-width="1.3"/>
<text x="246.20" y="265.90" font-family="'Liberation Serif', serif" font-size="5.6" font-weight="bold" fill="#222" text-anchor="end" transform="rotate(-45 246.2 265.90000000000003)" stroke="#222" stroke-width="0.2">CXCL9</text>
<line x1="255.60" y1="259.80" x2="255.60" y2="261.80" stroke="#444" stroke-width="0.7"/>
<circle cx="254.23" cy="237.60" r="1.0" fill="#2a2a78"/>
<circle cx="256.39" cy="238.34" r="1.0" fill="#2a2a78"/>
<circle cx="253.52" cy="238.98" r="1.0" fill="#2a2a78"/>
<circle cx="255.86" cy="239.66" r="1.0" fill="#2a2a78"/>
<circle cx="257.79" cy="240.30" r="1.0" fill="#2a2a78"/>
<line x1="251.80" y1="238.90" x2="259.40" y2="238.90" stroke="#2a2a78" stroke-width="1.3"/>
<text x="257.30" y="265.90" font-family="'Liberation Serif', serif" font-size="5.6" font-weight="bold" fill="#222" text-anchor="end" transform="rotate(-45 257.3 265.90000000000003)" stroke="#222" stroke-width="0.2">CX3CL1</text>
<line x1="266.40" y1="259.80" x2="266.40" y2="261.80" stroke="#444" stroke-width="0.7"/>
<circle cx="266.28" cy="232.90" r="1.0" fill="#2a2a78"/>
<circle cx="265.31" cy="239.54" r="1.0" fill="#2a2a78"/>
<circle cx="267.36" cy="240.30" r="1.0" fill="#2a2a78"/>
<circle cx="266.04" cy="242.41" r="1.0" fill="#2a2a78"/>
<circle cx="266.71" cy="246.30" r="1.0" fill="#2a2a78"/>
<line x1="262.60" y1="241.90" x2="270.20" y2="241.90" stroke="#2a2a78" stroke-width="1.3"/>
<text x="268.10" y="265.90" font-family="'Liberation Serif', serif" font-size="5.6" font-weight="bold" fill="#222" text-anchor="end" transform="rotate(-45 268.09999999999997 265.90000000000003)" stroke="#222" stroke-width="0.2">CXCL2</text>
<line x1="277.30" y1="259.80" x2="277.30" y2="261.80" stroke="#444" stroke-width="0.7"/>
<circle cx="277.38" cy="239.60" r="1.0" fill="#d62a32"/>
<circle cx="277.67" cy="240.60" r="1.0" fill="#d62a32"/>
<circle cx="276.25" cy="242.46" r="1.0" fill="#d62a32"/>
<circle cx="278.71" cy="243.00" r="1.0" fill="#d62a32"/>
<circle cx="277.09" cy="244.30" r="1.0" fill="#d62a32"/>
<line x1="273.50" y1="242.30" x2="281.10" y2="242.30" stroke="#d62a32" stroke-width="1.3"/>
<text x="279.00" y="265.90" font-family="'Liberation Serif', serif" font-size="5.6" font-weight="bold" fill="#222" text-anchor="end" transform="rotate(-45 279.0 265.90000000000003)" stroke="#222" stroke-width="0.2">CXCL10</text>
<line x1="288.50" y1="259.80" x2="288.50" y2="261.80" stroke="#444" stroke-width="0.7"/>
<circle cx="288.33" cy="241.30" r="1.0" fill="#d62a32"/>
<circle cx="287.50" cy="242.54" r="1.0" fill="#d62a32"/>
<circle cx="289.24" cy="242.79" r="1.0" fill="#d62a32"/>
<circle cx="287.48" cy="244.10" r="1.0" fill="#d62a32"/>
<circle cx="289.46" cy="245.40" r="1.0" fill="#d62a32"/>
<line x1="284.70" y1="243.20" x2="292.30" y2="243.20" stroke="#d62a32" stroke-width="1.3"/>
<text x="290.20" y="265.90" font-family="'Liberation Serif', serif" font-size="5.6" font-weight="bold" fill="#222" text-anchor="end" transform="rotate(-45 290.2 265.90000000000003)" stroke="#222" stroke-width="0.2">CCL4</text>
<text x="187.00" y="232.70" font-family="'Liberation Serif', serif" font-size="7.2" font-weight="bold" fill="#000" text-anchor="middle" stroke="#000" stroke-width="0.3">Subcutaneus</text>
<text x="187.00" y="239.85" font-family="'Liberation Serif', serif" font-size="7.2" font-weight="bold" fill="#000" text-anchor="middle" stroke="#000" stroke-width="0.3">Adipose</text>
<text x="187.00" y="247.00" font-family="'Liberation Serif', serif" font-size="7.2" font-weight="bold" fill="#000" text-anchor="middle" stroke="#000" stroke-width="0.3">Tissue</text>
<line x1="310.40" y1="215.30" x2="310.40" y2="259.80" stroke="#444" stroke-width="0.9"/>
<line x1="308.40" y1="215.30" x2="310.40" y2="215.30" stroke="#444" stroke-width="0.7"/>
<text x="307.40" y="216.90" font-family="'Liberation Serif', serif" font-size="4.5" font-weight="bold" fill="#222" text-anchor="end" stroke="#222" stroke-width="0.3">100</text>
<line x1="308.40" y1="226.43" x2="310.40" y2="226.43" stroke="#444" stroke-width="0.7"/>
<text x="307.40" y="228.03" font-family="'Liberation Serif', serif" font-size="4.5" font-weight="bold" fill="#222" text-anchor="end" stroke="#222" stroke-width="0.3">75</text>
<line x1="308.40" y1="237.55" x2="310.40" y2="237.55" stroke="#444" stroke-width="0.7"/>
<text x="307.40" y="239.15" font-family="'Liberation Serif', serif" font-size="4.5" font-weight="bold" fill="#222" text-anchor="end" stroke="#222" stroke-width="0.3">50</text>
<line x1="308.40" y1="248.68" x2="310.40" y2="248.68" stroke="#444" stroke-width="0.7"/>
<text x="307.40" y="250.28" font-family="'Liberation Serif', serif" font-size="4.5" font-weight="bold" fill="#222" text-anchor="end" stroke="#222" stroke-width="0.3">25</text>
<line x1="308.40" y1="259.80" x2="310.40" y2="259.80" stroke="#444" stroke-width="0.7"/>
<text x="307.40" y="261.40" font-family="'Liberation Serif', serif" font-size="4.5" font-weight="bold" fill="#222" text-anchor="end" stroke="#222" stroke-width="0.3">0</text>
<line x1="317.20" y1="222.20" x2="317.20" y2="224.00" stroke="#222" stroke-width="0.8"/>
<line x1="314.60" y1="222.20" x2="319.80" y2="222.20" stroke="#222" stroke-width="0.8"/>
<rect x="312.10" y="224.00" width="10.20" height="35.80" fill="#fff" stroke="#111" stroke-width="1"/>
<line x1="331.00" y1="249.00" x2="331.00" y2="251.00" stroke="#222" stroke-width="0.8"/>
<line x1="328.40" y1="249.00" x2="333.60" y2="249.00" stroke="#222" stroke-width="0.8"/>
<rect x="326.30" y="251.00" width="9.40" height="8.80" fill="#000" stroke="#111" stroke-width="1"/>
<line x1="310.40" y1="259.80" x2="338.20" y2="259.80" stroke="#444" stroke-width="0.9"/>
<line x1="406.80" y1="218.00" x2="406.80" y2="259.80" stroke="#444" stroke-width="0.9"/>
<line x1="406.80" y1="259.80" x2="471.20" y2="259.80" stroke="#444" stroke-width="0.9"/>
<line x1="403.20" y1="218.00" x2="406.80" y2="218.00" stroke="#444" stroke-width="0.8"/>
<text x="402.60" y="219.70" font-family="'Liberation Serif', serif" font-size="4.8" font-weight="bold" fill="#222" text-anchor="end" stroke="#222" stroke-width="0.3">13</text>
<line x1="403.20" y1="226.36" x2="406.80" y2="226.36" stroke="#444" stroke-width="0.8"/>
<text x="402.60" y="228.06" font-family="'Liberation Serif', serif" font-size="4.8" font-weight="bold" fill="#222" text-anchor="end" stroke="#222" stroke-width="0.3">11</text>
<line x1="403.20" y1="234.72" x2="406.80" y2="234.72" stroke="#444" stroke-width="0.8"/>
<text x="402.60" y="236.42" font-family="'Liberation Serif', serif" font-size="4.8" font-weight="bold" fill="#222" text-anchor="end" stroke="#222" stroke-width="0.3">9</text>
<line x1="403.20" y1="243.08" x2="406.80" y2="243.08" stroke="#444" stroke-width="0.8"/>
<text x="402.60" y="244.78" font-family="'Liberation Serif', serif" font-size="4.8" font-weight="bold" fill="#222" text-anchor="end" stroke="#222" stroke-width="0.3">7</text>
<line x1="403.20" y1="251.44" x2="406.80" y2="251.44" stroke="#444" stroke-width="0.8"/>
<text x="402.60" y="253.14" font-family="'Liberation Serif', serif" font-size="4.8" font-weight="bold" fill="#222" text-anchor="end" stroke="#222" stroke-width="0.3">5</text>
<line x1="403.20" y1="259.80" x2="406.80" y2="259.80" stroke="#444" stroke-width="0.8"/>
<text x="402.60" y="261.50" font-family="'Liberation Serif', serif" font-size="4.8" font-weight="bold" fill="#222" text-anchor="end" stroke="#222" stroke-width="0.3">3</text>
<text x="393.80" y="239.20" font-family="'Liberation Serif', serif" font-size="6.6" font-weight="bold" fill="#111" text-anchor="middle" transform="rotate(-90 393.8 239.20000000000002)" stroke="#111" stroke-width="0.45">expression(log)</text>
<line x1="412.80" y1="259.80" x2="412.80" y2="261.80" stroke="#444" stroke-width="0.7"/>
<circle cx="413.07" cy="223.40" r="1.0" fill="#2c8352"/>
<circle cx="409.90" cy="227.00" r="1.0" fill="#2c8352"/>
<circle cx="411.70" cy="227.10" r="1.0" fill="#2c8352"/>
<circle cx="414.12" cy="227.32" r="1.0" fill="#2c8352"/>
<circle cx="415.70" cy="227.67" r="1.0" fill="#2c8352"/>
<circle cx="412.53" cy="229.20" r="1.0" fill="#2c8352"/>
<line x1="409.00" y1="227.90" x2="416.60" y2="227.90" stroke="#2c8352" stroke-width="1.3"/>
<text x="414.50" y="265.90" font-family="'Liberation Serif', serif" font-size="5.6" font-weight="bold" fill="#222" text-anchor="end" transform="rotate(-45 414.5 265.90000000000003)" stroke="#222" stroke-width="0.2">CXCL12</text>
<line x1="423.50" y1="259.80" x2="423.50" y2="261.80" stroke="#444" stroke-width="0.7"/>
<circle cx="423.59" cy="218.00" r="1.0" fill="#2a2a78"/>
<circle cx="422.22" cy="225.43" r="1.0" fill="#2a2a78"/>
<circle cx="424.85" cy="225.47" r="1.0" fill="#2a2a78"/>
<circle cx="423.20" cy="228.24" r="1.0" fill="#2a2a78"/>
<circle cx="423.51" cy="233.69" r="1.0" fill="#2a2a78"/>
<circle cx="423.53" cy="244.60" r="1.0" fill="#2a2a78"/>
<line x1="419.70" y1="231.90" x2="427.30" y2="231.90" stroke="#2a2a78" stroke-width="1.3"/>
<text x="425.20" y="265.90" font-family="'Liberation Serif', serif" font-size="5.6" font-weight="bold" fill="#222" text-anchor="end" transform="rotate(-45 425.2 265.90000000000003)" stroke="#222" stroke-width="0.2">CXCL2</text>
<line x1="434.40" y1="259.80" x2="434.40" y2="261.80" stroke="#444" stroke-width="0.7"/>
<circle cx="434.24" cy="227.90" r="1.0" fill="#d62a32"/>
<circle cx="433.00" cy="231.41" r="1.0" fill="#d62a32"/>
<circle cx="435.30" cy="231.75" r="1.0" fill="#d62a32"/>
<circle cx="433.13" cy="232.47" r="1.0" fill="#d62a32"/>
<circle cx="435.15" cy="232.52" r="1.0" fill="#d62a32"/>
<circle cx="434.57" cy="237.60" r="1.0" fill="#d62a32"/>
<line x1="430.60" y1="233.50" x2="438.20" y2="233.50" stroke="#d62a32" stroke-width="1.3"/>
<text x="436.10" y="265.90" font-family="'Liberation Serif', serif" font-size="5.6" font-weight="bold" fill="#222" text-anchor="end" transform="rotate(-45 436.09999999999997 265.90000000000003)" stroke="#222" stroke-width="0.2">CCL4</text>
<line x1="445.60" y1="259.80" x2="445.60" y2="261.80" stroke="#444" stroke-width="0.7"/>
<circle cx="445.88" cy="229.50" r="1.0" fill="#d62a32"/>
<circle cx="445.48" cy="231.45" r="1.0" fill="#d62a32"/>
<circle cx="444.65" cy="234.54" r="1.0" fill="#d62a32"/>
<circle cx="446.40" cy="235.32" r="1.0" fill="#d62a32"/>
<circle cx="445.29" cy="235.49" r="1.0" fill="#d62a32"/>
<circle cx="445.93" cy="238.20" r="1.0" fill="#d62a32"/>
<line x1="441.80" y1="234.20" x2="449.40" y2="234.20" stroke="#d62a32" stroke-width="1.3"/>
<text x="447.30" y="265.90" font-family="'Liberation Serif', serif" font-size="5.6" font-weight="bold" fill="#222" text-anchor="end" transform="rotate(-45 447.3 265.90000000000003)" stroke="#222" stroke-width="0.2">CCL21</text>
<line x1="456.70" y1="259.80" x2="456.70" y2="261.80" stroke="#444" stroke-width="0.7"/>
<circle cx="456.65" cy="228.80" r="1.0" fill="#2a2a78"/>
<circle cx="455.80" cy="234.08" r="1.0" fill="#2a2a78"/>
<circle cx="457.63" cy="235.19" r="1.0" fill="#2a2a78"/>
<circle cx="456.30" cy="235.62" r="1.0" fill="#2a2a78"/>
<circle cx="456.97" cy="237.28" r="1.0" fill="#2a2a78"/>
<circle cx="456.92" cy="238.90" r="1.0" fill="#2a2a78"/>
<line x1="452.90" y1="236.00" x2="460.50" y2="236.00" stroke="#2a2a78" stroke-width="1.3"/>
<text x="458.40" y="265.90" font-family="'Liberation Serif', serif" font-size="5.6" font-weight="bold" fill="#222" text-anchor="end" transform="rotate(-45 458.4 265.90000000000003)" stroke="#222" stroke-width="0.2">CX3CL1</text>
<line x1="467.70" y1="259.80" x2="467.70" y2="261.80" stroke="#444" stroke-width="0.7"/>
<circle cx="467.52" cy="228.80" r="1.0" fill="#d62a32"/>
<circle cx="467.37" cy="235.42" r="1.0" fill="#d62a32"/>
<circle cx="468.06" cy="236.58" r="1.0" fill="#d62a32"/>
<circle cx="467.64" cy="237.47" r="1.0" fill="#d62a32"/>
<circle cx="468.04" cy="239.52" r="1.0" fill="#d62a32"/>
<circle cx="467.85" cy="243.60" r="1.0" fill="#d62a32"/>
<line x1="463.90" y1="236.00" x2="471.50" y2="236.00" stroke="#d62a32" stroke-width="1.3"/>
<text x="469.40" y="265.90" font-family="'Liberation Serif', serif" font-size="5.6" font-weight="bold" fill="#222" text-anchor="end" transform="rotate(-45 469.4 265.90000000000003)" stroke="#222" stroke-width="0.2">CXCL9</text>
<text x="372.00" y="234.50" font-family="'Liberation Serif', serif" font-size="7.2" font-weight="bold" fill="#000" text-anchor="middle" stroke="#000" stroke-width="0.3">Visceral</text>
<text x="372.00" y="242.00" font-family="'Liberation Serif', serif" font-size="7.2" font-weight="bold" fill="#000" text-anchor="middle" stroke="#000" stroke-width="0.3">Adipose</text>
<text x="372.00" y="249.50" font-family="'Liberation Serif', serif" font-size="7.2" font-weight="bold" fill="#000" text-anchor="middle" stroke="#000" stroke-width="0.3">Tissue</text>
<line x1="490.00" y1="215.30" x2="490.00" y2="259.80" stroke="#444" stroke-width="0.9"/>
<line x1="488.00" y1="215.30" x2="490.00" y2="215.30" stroke="#444" stroke-width="0.7"/>
<text x="487.00" y="216.90" font-family="'Liberation Serif', serif" font-size="4.5" font-weight="bold" fill="#222" text-anchor="end" stroke="#222" stroke-width="0.3">100</text>
<line x1="488.00" y1="226.43" x2="490.00" y2="226.43" stroke="#444" stroke-width="0.7"/>
<text x="487.00" y="228.03" font-family="'Liberation Serif', serif" font-size="4.5" font-weight="bold" fill="#222" text-anchor="end" stroke="#222" stroke-width="0.3">75</text>
<line x1="488.00" y1="237.55" x2="490.00" y2="237.55" stroke="#444" stroke-width="0.7"/>
<text x="487.00" y="239.15" font-family="'Liberation Serif', serif" font-size="4.5" font-weight="bold" fill="#222" text-anchor="end" stroke="#222" stroke-width="0.3">50</text>
<line x1="488.00" y1="248.68" x2="490.00" y2="248.68" stroke="#444" stroke-width="0.7"/>
<text x="487.00" y="250.28" font-family="'Liberation Serif', serif" font-size="4.5" font-weight="bold" fill="#222" text-anchor="end" stroke="#222" stroke-width="0.3">25</text>
<line x1="488.00" y1="259.80" x2="490.00" y2="259.80" stroke="#444" stroke-width="0.7"/>
<text x="487.00" y="261.40" font-family="'Liberation Serif', serif" font-size="4.5" font-weight="bold" fill="#222" text-anchor="end" stroke="#222" stroke-width="0.3">0</text>
<text x="481.00" y="239.35" font-family="'Liberation Serif', serif" font-size="5.0" font-weight="bold" fill="#111" text-anchor="middle" transform="rotate(-90 481.0 239.35000000000002)" stroke="#111" stroke-width="0.4">% of NK cells</text>
<line x1="497.75" y1="238.40" x2="497.75" y2="243.00" stroke="#222" stroke-width="0.8"/>
<line x1="495.15" y1="238.40" x2="500.35" y2="238.40" stroke="#222" stroke-width="0.8"/>
<rect x="492.50" y="243.00" width="10.50" height="16.80" fill="#fff" stroke="#111" stroke-width="1"/>
<line x1="511.20" y1="228.00" x2="511.20" y2="232.00" stroke="#222" stroke-width="0.8"/>
<line x1="508.60" y1="228.00" x2="513.80" y2="228.00" stroke="#222" stroke-width="0.8"/>
<rect x="506.30" y="232.00" width="9.80" height="27.80" fill="#000" stroke="#111" stroke-width="1"/>
<line x1="490.00" y1="259.80" x2="518.60" y2="259.80" stroke="#444" stroke-width="0.9"/>
<text x="1.00" y="306.90" font-family="'Liberation Sans', sans-serif" font-size="13" font-weight="normal" fill="#000" text-anchor="start" stroke="#000" stroke-width="0.45">B</text>
<text x="100.40" y="313.90" font-family="'Liberation Serif', serif" font-size="7.5" font-weight="bold" fill="#000" text-anchor="middle" stroke="#000" stroke-width="0.25">Prochemerin</text>
<line x1="40.00" y1="324.20" x2="40.00" y2="395.00" stroke="#444" stroke-width="0.9"/>
<line x1="40.00" y1="395.00" x2="182.00" y2="395.00" stroke="#444" stroke-width="0.9"/>
<line x1="38.00" y1="324.20" x2="40.00" y2="324.20" stroke="#444" stroke-width="0.7"/>
<text x="36.60" y="326.10" font-family="'Liberation Serif', serif" font-size="5.6" font-weight="bold" fill="#333" text-anchor="end">13</text>
<line x1="38.00" y1="338.36" x2="40.00" y2="338.36" stroke="#444" stroke-width="0.7"/>
<text x="36.60" y="340.26" font-family="'Liberation Serif', serif" font-size="5.6" font-weight="bold" fill="#333" text-anchor="end">11</text>
<line x1="38.00" y1="352.52" x2="40.00" y2="352.52" stroke="#444" stroke-width="0.7"/>
<text x="36.60" y="354.42" font-family="'Liberation Serif', serif" font-size="5.6" font-weight="bold" fill="#333" text-anchor="end">9</text>
<line x1="38.00" y1="366.68" x2="40.00" y2="366.68" stroke="#444" stroke-width="0.7"/>
<text x="36.60" y="368.58" font-family="'Liberation Serif', serif" font-size="5.6" font-weight="bold" fill="#333" text-anchor="end">7</text>
<line x1="38.00" y1="380.84" x2="40.00" y2="380.84" stroke="#444" stroke-width="0.7"/>
<text x="36.60" y="382.74" font-family="'Liberation Serif', serif" font-size="5.6" font-weight="bold" fill="#333" text-anchor="end">5</text>
<line x1="38.00" y1="395.00" x2="40.00" y2="395.00" stroke="#444" stroke-width="0.7"/>
<text x="36.60" y="396.90" font-family="'Liberation Serif', serif" font-size="5.6" font-weight="bold" fill="#333" text-anchor="end">3</text>
<text x="28.20" y="351.90" font-family="'Liberation Serif', serif" font-size="6.9" font-weight="bold" fill="#111" text-anchor="middle" transform="rotate(-90 28.2 351.9)" stroke="#111" stroke-width="0.3">expression(log)</text>
<line x1="48.70" y1="349.60" x2="48.70" y2="361.60" stroke="#333" stroke-width="0.8"/>
<line x1="46.30" y1="349.60" x2="51.10" y2="349.60" stroke="#333" stroke-width="0.8"/>
<line x1="46.30" y1="361.60" x2="51.10" y2="361.60" stroke="#333" stroke-width="0.8"/>
<rect x="43.50" y="351.00" width="10.40" height="9.90" fill="#dcdcdc" stroke="#333" stroke-width="0.8"/>
<line x1="43.50" y1="353.00" x2="53.90" y2="353.00" stroke="#333" stroke-width="0.9"/>
<line x1="48.70" y1="395.00" x2="48.70" y2="397.00" stroke="#444" stroke-width="0.7"/>
<text x="50.70" y="400.60" font-family="'Liberation Serif', serif" font-size="7.1" font-weight="bold" fill="#111" text-anchor="end" transform="rotate(-40 50.7 400.6)" stroke="#111" stroke-width="0.25">L.N.</text>
<line x1="64.40" y1="335.80" x2="64.40" y2="357.30" stroke="#333" stroke-width="0.8"/>
<line x1="62.00" y1="335.80" x2="66.80" y2="335.80" stroke="#333" stroke-width="0.8"/>
<line x1="62.00" y1="357.30" x2="66.80" y2="357.30" stroke="#333" stroke-width="0.8"/>
<rect x="59.20" y="341.60" width="10.40" height="7.60" fill="#dcdcdc" stroke="#333" stroke-width="0.8"/>
<line x1="59.20" y1="345.50" x2="69.60" y2="345.50" stroke="#333" stroke-width="0.9"/>
<line x1="64.40" y1="395.00" x2="64.40" y2="397.00" stroke="#444" stroke-width="0.7"/>
<text x="66.40" y="400.60" font-family="'Liberation Serif', serif" font-size="7.1" font-weight="bold" fill="#111" text-anchor="end" transform="rotate(-40 66.4 400.6)" stroke="#111" stroke-width="0.25">LUNG</text>
<line x1="80.20" y1="362.40" x2="80.20" y2="386.60" stroke="#333" stroke-width="0.8"/>
<line x1="77.80" y1="362.40" x2="82.60" y2="362.40" stroke="#333" stroke-width="0.8"/>
<line x1="77.80" y1="386.60" x2="82.60" y2="386.60" stroke="#333" stroke-width="0.8"/>
<rect x="75.00" y="373.20" width="10.40" height="8.30" fill="#dcdcdc" stroke="#333" stroke-width="0.8"/>
<line x1="75.00" y1="378.50" x2="85.40" y2="378.50" stroke="#333" stroke-width="0.9"/>
<line x1="80.20" y1="395.00" x2="80.20" y2="397.00" stroke="#444" stroke-width="0.7"/>
<text x="82.20" y="400.60" font-family="'Liberation Serif', serif" font-size="7.1" font-weight="bold" fill="#111" text-anchor="end" transform="rotate(-40 82.2 400.6)" stroke="#111" stroke-width="0.25">BREAST</text>
<line x1="95.60" y1="352.00" x2="95.60" y2="375.00" stroke="#333" stroke-width="0.8"/>
<line x1="93.20" y1="352.00" x2="98.00" y2="352.00" stroke="#333" stroke-width="0.8"/>
<line x1="93.20" y1="375.00" x2="98.00" y2="375.00" stroke="#333" stroke-width="0.8"/>
<rect x="90.40" y="354.70" width="10.40" height="14.60" fill="#dcdcdc" stroke="#333" stroke-width="0.8"/>
<line x1="90.40" y1="362.40" x2="100.80" y2="362.40" stroke="#333" stroke-width="0.9"/>
<line x1="95.60" y1="395.00" x2="95.60" y2="397.00" stroke="#444" stroke-width="0.7"/>
<text x="97.60" y="400.60" font-family="'Liberation Serif', serif" font-size="7.1" font-weight="bold" fill="#111" text-anchor="end" transform="rotate(-40 97.6 400.6)" stroke="#111" stroke-width="0.25">COLORECTAL</text>
<line x1="111.20" y1="334.00" x2="111.20" y2="355.40" stroke="#333" stroke-width="0.8"/>
<line x1="108.80" y1="334.00" x2="113.60" y2="334.00" stroke="#333" stroke-width="0.8"/>
<line x1="108.80" y1="355.40" x2="113.60" y2="355.40" stroke="#333" stroke-width="0.8"/>
<rect x="106.00" y="338.60" width="10.40" height="11.50" fill="#dcdcdc" stroke="#333" stroke-width="0.8"/>
<line x1="106.00" y1="341.10" x2="116.40" y2="341.10" stroke="#333" stroke-width="0.9"/>
<line x1="111.20" y1="395.00" x2="111.20" y2="397.00" stroke="#444" stroke-width="0.7"/>
<text x="113.20" y="400.60" font-family="'Liberation Serif', serif" font-size="7.1" font-weight="bold" fill="#111" text-anchor="end" transform="rotate(-40 113.2 400.6)" stroke="#111" stroke-width="0.25">LIVER</text>
<line x1="126.80" y1="350.30" x2="126.80" y2="363.50" stroke="#333" stroke-width="0.8"/>
<line x1="124.40" y1="350.30" x2="129.20" y2="350.30" stroke="#333" stroke-width="0.8"/>
<line x1="124.40" y1="363.50" x2="129.20" y2="363.50" stroke="#333" stroke-width="0.8"/>
<rect x="121.60" y="353.10" width="10.40" height="6.50" fill="#dcdcdc" stroke="#333" stroke-width="0.8"/>
<line x1="121.60" y1="355.40" x2="132.00" y2="355.40" stroke="#333" stroke-width="0.9"/>
<line x1="126.80" y1="395.00" x2="126.80" y2="397.00" stroke="#444" stroke-width="0.7"/>
<text x="128.80" y="400.60" font-family="'Liberation Serif', serif" font-size="7.1" font-weight="bold" fill="#111" text-anchor="end" transform="rotate(-40 128.8 400.6)" stroke="#111" stroke-width="0.25">KIDNEY</text>
<line x1="142.70" y1="333.50" x2="142.70" y2="337.60" stroke="#333" stroke-width="0.8"/>
<line x1="140.30" y1="333.50" x2="145.10" y2="333.50" stroke="#333" stroke-width="0.8"/>
<line x1="140.30" y1="337.60" x2="145.10" y2="337.60" stroke="#333" stroke-width="0.8"/>
<rect x="137.50" y="334.20" width="10.40" height="3.20" fill="#dcdcdc" stroke="#333" stroke-width="0.8"/>
<line x1="137.50" y1="335.10" x2="147.90" y2="335.10" stroke="#333" stroke-width="0.9"/>
<line x1="142.70" y1="395.00" x2="142.70" y2="397.00" stroke="#444" stroke-width="0.7"/>
<text x="144.70" y="400.60" font-family="'Liberation Serif', serif" font-size="7.1" font-weight="bold" fill="#111" text-anchor="end" transform="rotate(-40 144.7 400.6)" stroke="#111" stroke-width="0.25">SUB ADIPOSE T</text>
<line x1="158.50" y1="336.30" x2="158.50" y2="342.30" stroke="#333" stroke-width="0.8"/>
<line x1="156.10" y1="336.30" x2="160.90" y2="336.30" stroke="#333" stroke-width="0.8"/>
<line x1="156.10" y1="342.30" x2="160.90" y2="342.30" stroke="#333" stroke-width="0.8"/>
<rect x="153.30" y="337.00" width="10.40" height="4.60" fill="#dcdcdc" stroke="#333" stroke-width="0.8"/>
<line x1="153.30" y1="339.30" x2="163.70" y2="339.30" stroke="#333" stroke-width="0.9"/>
<line x1="158.50" y1="395.00" x2="158.50" y2="397.00" stroke="#444" stroke-width="0.7"/>
<text x="160.50" y="400.60" font-family="'Liberation Serif', serif" font-size="7.1" font-weight="bold" fill="#111" text-anchor="end" transform="rotate(-40 160.5 400.6)" stroke="#111" stroke-width="0.25">VISC ADIPOSE T</text>
<line x1="174.30" y1="358.90" x2="174.30" y2="366.50" stroke="#333" stroke-width="0.8"/>
<line x1="171.90" y1="358.90" x2="176.70" y2="358.90" stroke="#333" stroke-width="0.8"/>
<line x1="171.90" y1="366.50" x2="176.70" y2="366.50" stroke="#333" stroke-width="0.8"/>
<line x1="169.10" y1="362.40" x2="179.50" y2="362.40" stroke="#333" stroke-width="0.9"/>
<line x1="174.30" y1="395.00" x2="174.30" y2="397.00" stroke="#444" stroke-width="0.7"/>
<text x="176.30" y="400.60" font-family="'Liberation Serif', serif" font-size="7.1" font-weight="bold" fill="#111" text-anchor="end" transform="rotate(-40 176.3 400.6)" stroke="#111" stroke-width="0.25">STOMACH</text>
<text x="246.00" y="305.90" font-family="'Liberation Sans', sans-serif" font-size="13" font-weight="normal" fill="#000" text-anchor="start" stroke="#000" stroke-width="0.45">C</text>
<line x1="287.80" y1="306.40" x2="518.50" y2="306.40" stroke="#3a3a3a" stroke-width="1"/>
<line x1="247.30" y1="336.00" x2="518.50" y2="336.00" stroke="#3a3a3a" stroke-width="1"/>
<line x1="247.80" y1="358.50" x2="518.00" y2="358.50" stroke="#3a3a3a" stroke-width="0.9"/>
<line x1="247.30" y1="382.40" x2="518.50" y2="382.40" stroke="#222" stroke-width="1.6"/>
<line x1="247.30" y1="428.10" x2="518.50" y2="428.10" stroke="#3a3a3a" stroke-width="1"/>
<line x1="247.80" y1="336.00" x2="247.80" y2="428.10" stroke="#3a3a3a" stroke-width="1"/>
<line x1="288.30" y1="306.40" x2="288.30" y2="428.10" stroke="#3a3a3a" stroke-width="1.0"/>
<line x1="313.90" y1="306.40" x2="313.90" y2="428.10" stroke="#3a3a3a" stroke-width="1.0"/>
<line x1="339.50" y1="306.40" x2="339.50" y2="428.10" stroke="#3a3a3a" stroke-width="1.0"/>
<line x1="364.90" y1="306.40" x2="364.90" y2="428.10" stroke="#3a3a3a" stroke-width="1.0"/>
<line x1="390.80" y1="306.40" x2="390.80" y2="428.10" stroke="#3a3a3a" stroke-width="1.0"/>
<line x1="416.20" y1="306.40" x2="416.20" y2="428.10" stroke="#3a3a3a" stroke-width="1.0"/>
<line x1="442.00" y1="306.40" x2="442.00" y2="428.10" stroke="#3a3a3a" stroke-width="1.0"/>
<line x1="467.90" y1="306.40" x2="467.90" y2="428.10" stroke="#3a3a3a" stroke-width="1.0"/>
<line x1="493.30" y1="306.40" x2="493.30" y2="428.10" stroke="#3a3a3a" stroke-width="1.0"/>
<line x1="518.00" y1="306.40" x2="518.00" y2="428.10" stroke="#3a3a3a" stroke-width="1.0"/>
<text x="292.70" y="332.40" font-family="'Liberation Serif', serif" font-size="6.9" font-weight="bold" fill="#111" stroke="#111" stroke-width="0.4" transform="rotate(-45 292.70 332.40)">CCR5</text>
<text x="318.30" y="332.40" font-family="'Liberation Serif', serif" font-size="6.9" font-weight="bold" fill="#111" stroke="#111" stroke-width="0.4" transform="rotate(-45 318.30 332.40)">CCR7</text>
<text x="343.90" y="332.40" font-family="'Liberation Serif', serif" font-size="6.9" font-weight="bold" fill="#111" stroke="#111" stroke-width="0.4" transform="rotate(-45 343.90 332.40)">CXCR1</text>
<text x="369.30" y="332.40" font-family="'Liberation Serif', serif" font-size="6.9" font-weight="bold" fill="#111" stroke="#111" stroke-width="0.4" transform="rotate(-45 369.30 332.40)">CXCR2</text>
<text x="395.20" y="332.40" font-family="'Liberation Serif', serif" font-size="6.9" font-weight="bold" fill="#111" stroke="#111" stroke-width="0.4" transform="rotate(-45 395.20 332.40)">CXCR3</text>
<text x="420.60" y="332.40" font-family="'Liberation Serif', serif" font-size="6.9" font-weight="bold" fill="#111" stroke="#111" stroke-width="0.4" transform="rotate(-45 420.60 332.40)">CXCR4</text>
<text x="446.40" y="332.40" font-family="'Liberation Serif', serif" font-size="6.9" font-weight="bold" fill="#111" stroke="#111" stroke-width="0.4" transform="rotate(-45 446.40 332.40)">CX<tspan font-size='4.8' dy='1.5'>3</tspan><tspan dy='-1.5'>CR1</tspan></text>
<text x="472.30" y="332.40" font-family="'Liberation Serif', serif" font-size="6.9" font-weight="bold" fill="#111" stroke="#111" stroke-width="0.4" transform="rotate(-45 472.30 332.40)">S1P5</text>
<text x="497.70" y="332.40" font-family="'Liberation Serif', serif" font-size="6.0" font-weight="bold" fill="#111" stroke="#111" stroke-width="0.4" transform="rotate(-45 497.70 332.40)">ChemR23</text>
<text x="250.2" y="352.3" font-family="'Liberation Serif', serif" font-size="7" font-weight="bold" fill="#111" stroke="#111" stroke-width="0.35">CD56<tspan dy="-2.8">bright</tspan></text>
<text x="250.2" y="373.6" font-family="'Liberation Serif', serif" font-size="7" font-weight="bold" fill="#111" stroke="#111" stroke-width="0.35">CD56<tspan dy="-2.8">dim</tspan></text>
<text x="265.00" y="407.20" font-family="'Liberation Serif', serif" font-size="6.8" font-weight="bold" fill="#111" text-anchor="middle" stroke="#111" stroke-width="0.3">ligands</text>
<text x="300.10" y="350.30" font-family="'Liberation Serif', serif" font-size="9.5" font-weight="bold" fill="#222" stroke="#222" stroke-width="0.3" text-anchor="middle" letter-spacing="0.3">+</text>
<rect x="298.60" y="369.10" width="3.00" height="1.15" fill="#222"/>
<text x="325.70" y="350.30" font-family="'Liberation Serif', serif" font-size="9.5" font-weight="bold" fill="#222" stroke="#222" stroke-width="0.3" text-anchor="middle" letter-spacing="0.3">++</text>
<rect x="324.20" y="369.10" width="3.00" height="1.15" fill="#222"/>
<rect x="349.70" y="346.80" width="3.00" height="1.15" fill="#222"/>
<text x="351.20" y="372.60" font-family="'Liberation Serif', serif" font-size="9.5" font-weight="bold" fill="#222" stroke="#222" stroke-width="0.3" text-anchor="middle" letter-spacing="0.3">++</text>
<rect x="375.35" y="346.80" width="3.00" height="1.15" fill="#222"/>
<text x="376.85" y="372.60" font-family="'Liberation Serif', serif" font-size="9.5" font-weight="bold" fill="#222" stroke="#222" stroke-width="0.3" text-anchor="middle" letter-spacing="0.3">+</text>
<text x="402.50" y="350.30" font-family="'Liberation Serif', serif" font-size="9.5" font-weight="bold" fill="#222" stroke="#222" stroke-width="0.3" text-anchor="middle" letter-spacing="0.3">++</text>
<text x="402.50" y="372.60" font-family="'Liberation Serif', serif" font-size="9.5" font-weight="bold" fill="#222" stroke="#222" stroke-width="0.3" text-anchor="middle" letter-spacing="0.3">+</text>
<text x="428.10" y="350.30" font-family="'Liberation Serif', serif" font-size="9.5" font-weight="bold" fill="#222" stroke="#222" stroke-width="0.3" text-anchor="middle" letter-spacing="0.3">++</text>
<text x="428.10" y="372.60" font-family="'Liberation Serif', serif" font-size="9.5" font-weight="bold" fill="#222" stroke="#222" stroke-width="0.3" text-anchor="middle" letter-spacing="0.3">++</text>
<rect x="452.45" y="346.80" width="3.00" height="1.15" fill="#222"/>
<text x="453.95" y="372.60" font-family="'Liberation Serif', serif" font-size="9.5" font-weight="bold" fill="#222" stroke="#222" stroke-width="0.3" text-anchor="middle" letter-spacing="0.3">++</text>
<rect x="478.10" y="346.80" width="3.00" height="1.15" fill="#222"/>
<text x="479.60" y="372.60" font-family="'Liberation Serif', serif" font-size="9.5" font-weight="bold" fill="#222" stroke="#222" stroke-width="0.3" text-anchor="middle" letter-spacing="0.3">+</text>
<rect x="503.15" y="346.80" width="3.00" height="1.15" fill="#222"/>
<text x="504.65" y="372.60" font-family="'Liberation Serif', serif" font-size="9.5" font-weight="bold" fill="#222" stroke="#222" stroke-width="0.3" text-anchor="middle" letter-spacing="0.3">+</text>
<text x="291.00" y="394.60" font-family="'Liberation Serif', serif" font-size="6.3" font-weight="normal" fill="#111" stroke="#111" stroke-width="0.3">CCL3</text>
<text x="291.00" y="401.10" font-family="'Liberation Serif', serif" font-size="6.3" font-weight="normal" fill="#111" stroke="#111" stroke-width="0.3">CCL4</text>
<text x="291.00" y="407.60" font-family="'Liberation Serif', serif" font-size="6.3" font-weight="normal" fill="#111" stroke="#111" stroke-width="0.3">CCL5</text>
<text x="317.00" y="394.60" font-family="'Liberation Serif', serif" font-size="6.3" font-weight="normal" fill="#111" stroke="#111" stroke-width="0.3">CCL19</text>
<text x="317.00" y="401.10" font-family="'Liberation Serif', serif" font-size="6.3" font-weight="normal" fill="#111" stroke="#111" stroke-width="0.3">CCL21</text>
<text x="341.20" y="394.60" font-family="'Liberation Serif', serif" font-size="6.3" font-weight="normal" fill="#111" stroke="#111" stroke-width="0.3">CXCL6</text>
<text x="341.20" y="401.10" font-family="'Liberation Serif', serif" font-size="6.3" font-weight="normal" fill="#111" stroke="#111" stroke-width="0.3">CXCL8</text>
<text x="366.00" y="394.60" font-family="'Liberation Serif', serif" font-size="6.3" font-weight="normal" fill="#111" stroke="#111" stroke-width="0.3">CXCL8</text>
<text x="366.00" y="402.00" font-family="'Liberation Serif', serif" font-size="6.3" font-weight="normal" fill="#111" stroke="#111" stroke-width="0.3">CXCL1</text>
<text x="366.00" y="409.40" font-family="'Liberation Serif', serif" font-size="6.3" font-weight="normal" fill="#111" stroke="#111" stroke-width="0.3">CXCL2</text>
<text x="366.00" y="416.80" font-family="'Liberation Serif', serif" font-size="6.3" font-weight="normal" fill="#111" stroke="#111" stroke-width="0.3">CXCL5</text>
<text x="391.80" y="394.60" font-family="'Liberation Serif', serif" font-size="6.3" font-weight="normal" fill="#111" stroke="#111" stroke-width="0.3">CXCL9</text>
<text x="391.80" y="402.00" font-family="'Liberation Serif', serif" font-size="6.3" font-weight="normal" fill="#111" stroke="#111" stroke-width="0.3">CXCL10</text>
<text x="391.80" y="409.40" font-family="'Liberation Serif', serif" font-size="6.3" font-weight="normal" fill="#111" stroke="#111" stroke-width="0.3">CXCL11</text>
<text x="418.00" y="394.60" font-family="'Liberation Serif', serif" font-size="6.3" font-weight="normal" fill="#111" stroke="#111" stroke-width="0.3">CXCL12</text>
<text x="443.80" y="394.60" font-family="'Liberation Serif', serif" font-size="6.3" font-weight="normal" fill="#111" stroke="#111" stroke-width="0.3">CX<tspan font-size='4.4' dy='1.2'>3</tspan><tspan dy='-1.2'>CL1</tspan></text>
<text x="473.00" y="394.60" font-family="'Liberation Serif', serif" font-size="6.3" font-weight="normal" fill="#111" stroke="#111" stroke-width="0.3">S1P</text>
<text x="493.60" y="394.60" font-family="'Liberation Serif', serif" font-size="5.9" font-weight="normal" fill="#111" stroke="#111" stroke-width="0.3">Chemerin</text>
<text x="-1.00" y="456.30" font-family="'Liberation Sans', sans-serif" font-size="13" font-weight="normal" fill="#000" text-anchor="start" stroke="#000" stroke-width="0.45">D</text>
<defs><linearGradient id="cb" x1="0" x2="1" y1="0" y2="0"><stop offset="0" stop-color="#fff8c4"/><stop offset="0.12" stop-color="#fdd9a9"/><stop offset="0.25" stop-color="#fab292"/><stop offset="0.4" stop-color="#f88a72"/><stop offset="0.5" stop-color="#f56858"/><stop offset="0.75" stop-color="#f23a36"/><stop offset="1" stop-color="#ee1010"/></linearGradient></defs>
<rect x="80.60" y="456.60" width="382.80" height="11.60" fill="url(#cb)"/>
<g transform="translate(81.2 485.8) scale(0.72 1)"><text x="0" y="0" font-family="'Liberation Mono', monospace" font-size="12.2" fill="#3a3a3a">4.0</text></g>
<g transform="translate(441.8 485.8) scale(0.72 1)"><text x="0" y="0" font-family="'Liberation Mono', monospace" font-size="12.2" fill="#3a3a3a">12.5</text></g>
<text x="31.70" y="527.20" font-family="'Liberation Sans', sans-serif" font-size="6.8" font-weight="normal" fill="#333" text-anchor="start" transform="rotate(-90 31.7 527.2)" letter-spacing="1.4" stroke="#333" stroke-width="0.12">9.817856</text>
<text x="55.70" y="527.20" font-family="'Liberation Sans', sans-serif" font-size="6.8" font-weight="normal" fill="#333" text-anchor="start" transform="rotate(-90 55.7 527.2)" letter-spacing="1.4" stroke="#333" stroke-width="0.12">4.908928</text>
<text x="81.90" y="527.20" font-family="'Liberation Sans', sans-serif" font-size="6.8" font-weight="normal" fill="#333" text-anchor="start" transform="rotate(-90 81.9 527.2)" letter-spacing="1.4" stroke="#333" stroke-width="0.12">0.0</text>
<line x1="26.40" y1="536.20" x2="80.80" y2="536.20" stroke="#555" stroke-width="0.9"/>
<line x1="26.90" y1="532.50" x2="26.90" y2="536.20" stroke="#555" stroke-width="0.9"/>
<line x1="53.80" y1="532.50" x2="53.80" y2="536.20" stroke="#555" stroke-width="0.9"/>
<line x1="80.30" y1="532.50" x2="80.30" y2="536.20" stroke="#555" stroke-width="0.9"/>
<rect x="81.20" y="539.90" width="27.59" height="7.98" fill="#f01212"/>
<rect x="108.49" y="539.90" width="27.59" height="7.98" fill="#f01616"/>
<rect x="135.77" y="539.90" width="27.59" height="7.98" fill="#f88570"/>
<rect x="163.06" y="539.90" width="27.59" height="7.98" fill="#f46048"/>
<rect x="190.34" y="539.90" width="27.59" height="7.98" fill="#f88068"/>
<rect x="217.63" y="539.90" width="27.59" height="7.98" fill="#f88068"/>
<rect x="244.91" y="539.90" width="27.59" height="7.98" fill="#f88870"/>
<rect x="272.20" y="539.90" width="27.59" height="7.98" fill="#f2342a"/>
<rect x="299.49" y="539.90" width="27.59" height="7.98" fill="#feebc0"/>
<rect x="326.77" y="539.90" width="27.59" height="7.98" fill="#fee8bc"/>
<rect x="354.06" y="539.90" width="27.59" height="7.98" fill="#faac8c"/>
<rect x="381.34" y="539.90" width="27.59" height="7.98" fill="#fcd0a8"/>
<rect x="408.63" y="539.90" width="27.59" height="7.98" fill="#f88068"/>
<rect x="435.91" y="539.90" width="27.59" height="7.98" fill="#f66454"/>
<rect x="81.20" y="547.58" width="27.59" height="7.98" fill="#f89278"/>
<rect x="108.49" y="547.58" width="27.59" height="7.98" fill="#f99c7c"/>
<rect x="135.77" y="547.58" width="27.59" height="7.98" fill="#f46050"/>
<rect x="163.06" y="547.58" width="27.59" height="7.98" fill="#f88570"/>
<rect x="190.34" y="547.58" width="27.59" height="7.98" fill="#f88068"/>
<rect x="217.63" y="547.58" width="27.59" height="7.98" fill="#f88068"/>
<rect x="244.91" y="547.58" width="27.59" height="7.98" fill="#f88870"/>
<rect x="272.20" y="547.58" width="27.59" height="7.98" fill="#f87060"/>
<rect x="299.49" y="547.58" width="27.59" height="7.98" fill="#feebc0"/>
<rect x="326.77" y="547.58" width="27.59" height="7.98" fill="#fcd0a8"/>
<rect x="354.06" y="547.58" width="27.59" height="7.98" fill="#fbbc9c"/>
<rect x="381.34" y="547.58" width="27.59" height="7.98" fill="#f9947c"/>
<rect x="408.63" y="547.58" width="27.59" height="7.98" fill="#f45a4a"/>
<rect x="435.91" y="547.58" width="27.59" height="7.98" fill="#f44434"/>
<rect x="81.20" y="555.26" width="27.59" height="7.98" fill="#f45e50"/>
<rect x="108.49" y="555.26" width="27.59" height="7.98" fill="#faac8c"/>
<rect x="135.77" y="555.26" width="27.59" height="7.98" fill="#f46050"/>
<rect x="163.06" y="555.26" width="27.59" height="7.98" fill="#f88570"/>
<rect x="190.34" y="555.26" width="27.59" height="7.98" fill="#f88068"/>
<rect x="217.63" y="555.26" width="27.59" height="7.98" fill="#f99c7c"/>
<rect x="244.91" y="555.26" width="27.59" height="7.98" fill="#fde0b8"/>
<rect x="272.20" y="555.26" width="27.59" height="7.98" fill="#f2322a"/>
<rect x="299.49" y="555.26" width="27.59" height="7.98" fill="#f89474"/>
<rect x="326.77" y="555.26" width="27.59" height="7.98" fill="#f89474"/>
<rect x="354.06" y="555.26" width="27.59" height="7.98" fill="#fdddb5"/>
<rect x="381.34" y="555.26" width="27.59" height="7.98" fill="#f88068"/>
<rect x="408.63" y="555.26" width="27.59" height="7.98" fill="#f45a4a"/>
<rect x="435.91" y="555.26" width="27.59" height="7.98" fill="#f45848"/>
<rect x="81.20" y="562.93" width="27.59" height="7.98" fill="#feebc0"/>
<rect x="108.49" y="562.93" width="27.59" height="7.98" fill="#fef8c8"/>
<rect x="135.77" y="562.93" width="27.59" height="7.98" fill="#fab090"/>
<rect x="163.06" y="562.93" width="27.59" height="7.98" fill="#fbbc9c"/>
<rect x="190.34" y="562.93" width="27.59" height="7.98" fill="#fccfa8"/>
<rect x="217.63" y="562.93" width="27.59" height="7.98" fill="#fab494"/>
<rect x="244.91" y="562.93" width="27.59" height="7.98" fill="#fef2c4"/>
<rect x="272.20" y="562.93" width="27.59" height="7.98" fill="#f88c74"/>
<rect x="299.49" y="562.93" width="27.59" height="7.98" fill="#fcd0a8"/>
<rect x="326.77" y="562.93" width="27.59" height="7.98" fill="#fef8c8"/>
<rect x="354.06" y="562.93" width="27.59" height="7.98" fill="#fdd8b0"/>
<rect x="381.34" y="562.93" width="27.59" height="7.98" fill="#fbbb9c"/>
<rect x="408.63" y="562.93" width="27.59" height="7.98" fill="#f8886e"/>
<rect x="435.91" y="562.93" width="27.59" height="7.98" fill="#f88068"/>
<rect x="81.20" y="570.61" width="27.59" height="7.98" fill="#f9a486"/>
<rect x="108.49" y="570.61" width="27.59" height="7.98" fill="#f9a080"/>
<rect x="135.77" y="570.61" width="27.59" height="7.98" fill="#fab090"/>
<rect x="163.06" y="570.61" width="27.59" height="7.98" fill="#fbb898"/>
<rect x="190.34" y="570.61" width="27.59" height="7.98" fill="#fcd0a8"/>
<rect x="217.63" y="570.61" width="27.59" height="7.98" fill="#fab494"/>
<rect x="244.91" y="570.61" width="27.59" height="7.98" fill="#fcd5ae"/>
<rect x="272.20" y="570.61" width="27.59" height="7.98" fill="#f88068"/>
<rect x="299.49" y="570.61" width="27.59" height="7.98" fill="#fef8c8"/>
<rect x="326.77" y="570.61" width="27.59" height="7.98" fill="#fde8bc"/>
<rect x="354.06" y="570.61" width="27.59" height="7.98" fill="#fef8c8"/>
<rect x="381.34" y="570.61" width="27.59" height="7.98" fill="#fab494"/>
<rect x="408.63" y="570.61" width="27.59" height="7.98" fill="#fbbc9c"/>
<rect x="435.91" y="570.61" width="27.59" height="7.98" fill="#fbbc9c"/>
<rect x="81.20" y="578.29" width="27.59" height="7.98" fill="#f89c82"/>
<rect x="108.49" y="578.29" width="27.59" height="7.98" fill="#f9a080"/>
<rect x="135.77" y="578.29" width="27.59" height="7.98" fill="#f89c7c"/>
<rect x="163.06" y="578.29" width="27.59" height="7.98" fill="#fab090"/>
<rect x="190.34" y="578.29" width="27.59" height="7.98" fill="#fab494"/>
<rect x="217.63" y="578.29" width="27.59" height="7.98" fill="#f9a484"/>
<rect x="244.91" y="578.29" width="27.59" height="7.98" fill="#fab092"/>
<rect x="272.20" y="578.29" width="27.59" height="7.98" fill="#f87464"/>
<rect x="299.49" y="578.29" width="27.59" height="7.98" fill="#fde8bc"/>
<rect x="326.77" y="578.29" width="27.59" height="7.98" fill="#fdddb5"/>
<rect x="354.06" y="578.29" width="27.59" height="7.98" fill="#fcd0a8"/>
<rect x="381.34" y="578.29" width="27.59" height="7.98" fill="#fab494"/>
<rect x="408.63" y="578.29" width="27.59" height="7.98" fill="#fbbc9c"/>
<rect x="435.91" y="578.29" width="27.59" height="7.98" fill="#fab494"/>
<rect x="81.20" y="585.97" width="27.59" height="7.98" fill="#f9ac90"/>
<rect x="108.49" y="585.97" width="27.59" height="7.98" fill="#fab090"/>
<rect x="135.77" y="585.97" width="27.59" height="7.98" fill="#f99c7c"/>
<rect x="163.06" y="585.97" width="27.59" height="7.98" fill="#fcd0a8"/>
<rect x="190.34" y="585.97" width="27.59" height="7.98" fill="#faac8c"/>
<rect x="217.63" y="585.97" width="27.59" height="7.98" fill="#f9a484"/>
<rect x="244.91" y="585.97" width="27.59" height="7.98" fill="#fcd5ae"/>
<rect x="272.20" y="585.97" width="27.59" height="7.98" fill="#f86c5c"/>
<rect x="299.49" y="585.97" width="27.59" height="7.98" fill="#fde5b8"/>
<rect x="326.77" y="585.97" width="27.59" height="7.98" fill="#fdddb5"/>
<rect x="354.06" y="585.97" width="27.59" height="7.98" fill="#fef8c8"/>
<rect x="381.34" y="585.97" width="27.59" height="7.98" fill="#fcd5ae"/>
<rect x="408.63" y="585.97" width="27.59" height="7.98" fill="#fbb494"/>
<rect x="435.91" y="585.97" width="27.59" height="7.98" fill="#f46050"/>
<rect x="81.20" y="593.64" width="27.59" height="7.98" fill="#f9b092"/>
<rect x="108.49" y="593.64" width="27.59" height="7.98" fill="#fcc4a4"/>
<rect x="135.77" y="593.64" width="27.59" height="7.98" fill="#f99c80"/>
<rect x="163.06" y="593.64" width="27.59" height="7.98" fill="#fab090"/>
<rect x="190.34" y="593.64" width="27.59" height="7.98" fill="#fab494"/>
<rect x="217.63" y="593.64" width="27.59" height="7.98" fill="#f99c7c"/>
<rect x="244.91" y="593.64" width="27.59" height="7.98" fill="#fcd5ae"/>
<rect x="272.20" y="593.64" width="27.59" height="7.98" fill="#f86a58"/>
<rect x="299.49" y="593.64" width="27.59" height="7.98" fill="#fde5b8"/>
<rect x="326.77" y="593.64" width="27.59" height="7.98" fill="#fde0b8"/>
<rect x="354.06" y="593.64" width="27.59" height="7.98" fill="#fef8c8"/>
<rect x="381.34" y="593.64" width="27.59" height="7.98" fill="#fcd5ae"/>
<rect x="408.63" y="593.64" width="27.59" height="7.98" fill="#f99078"/>
<rect x="435.91" y="593.64" width="27.59" height="7.98" fill="#fbb494"/>
<rect x="81.20" y="601.32" width="27.59" height="7.98" fill="#fab494"/>
<rect x="108.49" y="601.32" width="27.59" height="7.98" fill="#fab494"/>
<rect x="135.77" y="601.32" width="27.59" height="7.98" fill="#f99c80"/>
<rect x="163.06" y="601.32" width="27.59" height="7.98" fill="#f87868"/>
<rect x="190.34" y="601.32" width="27.59" height="7.98" fill="#fab494"/>
<rect x="217.63" y="601.32" width="27.59" height="7.98" fill="#f99c7c"/>
<rect x="244.91" y="601.32" width="27.59" height="7.98" fill="#fcd8b0"/>
<rect x="272.20" y="601.32" width="27.59" height="7.98" fill="#f4483a"/>
<rect x="299.49" y="601.32" width="27.59" height="7.98" fill="#fde5b8"/>
<rect x="326.77" y="601.32" width="27.59" height="7.98" fill="#fde8bc"/>
<rect x="354.06" y="601.32" width="27.59" height="7.98" fill="#fcd0a8"/>
<rect x="381.34" y="601.32" width="27.59" height="7.98" fill="#fcd5ae"/>
<rect x="408.63" y="601.32" width="27.59" height="7.98" fill="#f99c7c"/>
<rect x="435.91" y="601.32" width="27.59" height="7.98" fill="#f9a484"/>
<text x="99.50" y="532.80" font-family="'Liberation Serif', serif" font-size="9.9" font-weight="normal" fill="#111" text-anchor="start" transform="rotate(-90 99.5 532.8)" stroke="#111" stroke-width="0.2">CCL21</text>
<text x="123.90" y="532.80" font-family="'Liberation Serif', serif" font-size="9.9" font-weight="normal" fill="#111" text-anchor="start" transform="rotate(-90 123.89999999999999 532.8)" stroke="#111" stroke-width="0.2">CCL19</text>
<text x="151.90" y="532.80" font-family="'Liberation Serif', serif" font-size="9.9" font-weight="normal" fill="#111" text-anchor="start" transform="rotate(-90 151.9 532.8)" stroke="#111" stroke-width="0.2">CCL4</text>
<text x="178.10" y="532.80" font-family="'Liberation Serif', serif" font-size="9.9" font-weight="normal" fill="#111" text-anchor="start" transform="rotate(-90 178.10000000000002 532.8)" stroke="#111" stroke-width="0.2">CXCL9</text>
<text x="203.50" y="532.80" font-family="'Liberation Serif', serif" font-size="9.9" font-weight="normal" fill="#111" text-anchor="start" transform="rotate(-90 203.5 532.8)" stroke="#111" stroke-width="0.2">CCL3</text>
<text x="231.50" y="532.80" font-family="'Liberation Serif', serif" font-size="9.9" font-weight="normal" fill="#111" text-anchor="start" transform="rotate(-90 231.5 532.8)" stroke="#111" stroke-width="0.2">CXCL10</text>
<text x="258.50" y="532.80" font-family="'Liberation Serif', serif" font-size="9.9" font-weight="normal" fill="#111" text-anchor="start" transform="rotate(-90 258.5 532.8)" stroke="#111" stroke-width="0.2">CCL5</text>
<text x="289.20" y="532.80" font-family="'Liberation Serif', serif" font-size="9.9" font-weight="normal" fill="#111" text-anchor="start" transform="rotate(-90 289.2 532.8)" stroke="#111" stroke-width="0.2">CXCL12</text>
<text x="315.30" y="532.80" font-family="'Liberation Serif', serif" font-size="9.9" font-weight="normal" fill="#111" text-anchor="start" transform="rotate(-90 315.3 532.8)" stroke="#111" stroke-width="0.2">CXCL6</text>
<text x="343.00" y="532.80" font-family="'Liberation Serif', serif" font-size="9.9" font-weight="normal" fill="#111" text-anchor="start" transform="rotate(-90 343.0 532.8)" stroke="#111" stroke-width="0.2">CXCL8</text>
<text x="369.90" y="532.80" font-family="'Liberation Serif', serif" font-size="9.9" font-weight="normal" fill="#111" text-anchor="start" transform="rotate(-90 369.90000000000003 532.8)" stroke="#111" stroke-width="0.2">CXCL5</text>
<text x="399.00" y="532.80" font-family="'Liberation Serif', serif" font-size="9.9" font-weight="normal" fill="#111" text-anchor="start" transform="rotate(-90 399.0 532.8)" stroke="#111" stroke-width="0.2">CXCL1</text>
<text x="424.30" y="532.80" font-family="'Liberation Serif', serif" font-size="9.9" font-weight="normal" fill="#111" text-anchor="start" transform="rotate(-90 424.3 532.8)" stroke="#111" stroke-width="0.2">CX3CL1</text>
<text x="453.90" y="532.80" font-family="'Liberation Serif', serif" font-size="9.9" font-weight="normal" fill="#111" text-anchor="start" transform="rotate(-90 453.90000000000003 532.8)" stroke="#111" stroke-width="0.2">CXCL2</text>
<text x="465.40" y="546.04" font-family="'Liberation Serif', serif" font-size="6.8" font-weight="bold" fill="#000" text-anchor="start" stroke="#000" stroke-width="0.35">Lymph Node</text>
<text x="465.40" y="553.72" font-family="'Liberation Serif', serif" font-size="6.8" font-weight="bold" fill="#000" text-anchor="start" stroke="#000" stroke-width="0.35">Lung</text>
<text x="465.40" y="561.39" font-family="'Liberation Serif', serif" font-size="6.8" font-weight="bold" fill="#000" text-anchor="start" stroke="#000" stroke-width="0.35">Visc. Ad. Tissue</text>
<text x="465.40" y="569.07" font-family="'Liberation Serif', serif" font-size="6.8" font-weight="bold" fill="#000" text-anchor="start" stroke="#000" stroke-width="0.35">Breast</text>
<text x="465.40" y="576.75" font-family="'Liberation Serif', serif" font-size="6.8" font-weight="bold" fill="#000" text-anchor="start" stroke="#000" stroke-width="0.35">Colorectal</text>
<text x="465.40" y="584.43" font-family="'Liberation Serif', serif" font-size="6.8" font-weight="bold" fill="#000" text-anchor="start" stroke="#000" stroke-width="0.35">Stomach</text>
<text x="465.40" y="592.11" font-family="'Liberation Serif', serif" font-size="6.8" font-weight="bold" fill="#000" text-anchor="start" stroke="#000" stroke-width="0.35">Liver</text>
<text x="465.40" y="599.78" font-family="'Liberation Serif', serif" font-size="6.8" font-weight="bold" fill="#000" text-anchor="start" stroke="#000" stroke-width="0.35">Kidney</text>
<text x="465.40" y="607.46" font-family="'Liberation Serif', serif" font-size="6.8" font-weight="bold" fill="#000" text-anchor="start" stroke="#000" stroke-width="0.35">Sub. Ad. Tissue</text>
<line x1="26.50" y1="543.74" x2="81.20" y2="543.74" stroke="#555" stroke-width="1"/>
<line x1="26.50" y1="543.74" x2="26.50" y2="566.40" stroke="#555" stroke-width="1"/>
<line x1="26.50" y1="566.40" x2="36.80" y2="566.40" stroke="#555" stroke-width="1"/>
<line x1="36.80" y1="555.60" x2="36.80" y2="577.40" stroke="#555" stroke-width="1"/>
<line x1="36.80" y1="555.60" x2="52.70" y2="555.60" stroke="#555" stroke-width="1"/>
<line x1="52.70" y1="551.42" x2="52.70" y2="559.09" stroke="#555" stroke-width="1"/>
<line x1="52.70" y1="551.42" x2="81.20" y2="551.42" stroke="#555" stroke-width="1"/>
<line x1="52.70" y1="559.09" x2="81.20" y2="559.09" stroke="#555" stroke-width="1"/>
<line x1="36.80" y1="577.40" x2="53.60" y2="577.40" stroke="#555" stroke-width="1"/>
<line x1="53.60" y1="566.77" x2="53.60" y2="587.10" stroke="#555" stroke-width="1"/>
<line x1="53.60" y1="566.77" x2="81.20" y2="566.77" stroke="#555" stroke-width="1"/>
<line x1="53.60" y1="587.10" x2="59.30" y2="587.10" stroke="#555" stroke-width="1"/>
<line x1="59.30" y1="578.50" x2="59.30" y2="596.00" stroke="#555" stroke-width="1"/>
<line x1="59.30" y1="578.50" x2="65.80" y2="578.50" stroke="#555" stroke-width="1"/>
<line x1="65.80" y1="574.45" x2="65.80" y2="582.13" stroke="#555" stroke-width="1"/>
<line x1="65.80" y1="574.45" x2="81.20" y2="574.45" stroke="#555" stroke-width="1"/>
<line x1="65.80" y1="582.13" x2="81.20" y2="582.13" stroke="#555" stroke-width="1"/>
<line x1="59.30" y1="596.00" x2="60.40" y2="596.00" stroke="#555" stroke-width="1"/>
<line x1="60.40" y1="589.81" x2="60.40" y2="601.90" stroke="#555" stroke-width="1"/>
<line x1="60.40" y1="589.81" x2="81.20" y2="589.81" stroke="#555" stroke-width="1"/>
<line x1="60.40" y1="601.90" x2="67.40" y2="601.90" stroke="#555" stroke-width="1"/>
<line x1="67.40" y1="597.48" x2="67.40" y2="605.16" stroke="#555" stroke-width="1"/>
<line x1="67.40" y1="597.48" x2="81.20" y2="597.48" stroke="#555" stroke-width="1"/>
<line x1="67.40" y1="605.16" x2="81.20" y2="605.16" stroke="#555" stroke-width="1"/>
<line x1="81.30" y1="614.40" x2="271.20" y2="614.40" stroke="#000" stroke-width="1.1"/>
<line x1="305.60" y1="614.40" x2="462.40" y2="614.40" stroke="#000" stroke-width="1.1"/>
<text x="96.8" y="625.2" font-family="'Liberation Serif', serif" font-size="8.7" font-weight="bold" fill="#000" stroke="#000" stroke-width="0.25" xml:space="preserve">Chemokines attracting CD56<tspan font-size="5.4" dy="-3.2">bright</tspan><tspan dy="3.2" font-size="8.1"> NK cells</tspan></text>
<text x="306.6" y="625.2" font-family="'Liberation Serif', serif" font-size="8.7" font-weight="bold" fill="#000" stroke="#000" stroke-width="0.25" xml:space="preserve">Chemokines attracting CD56 <tspan font-size="6.3" dy="-4">dim</tspan><tspan dy="4" font-size="8.1">  NK cells</tspan></text>
</svg>
</body></html>
